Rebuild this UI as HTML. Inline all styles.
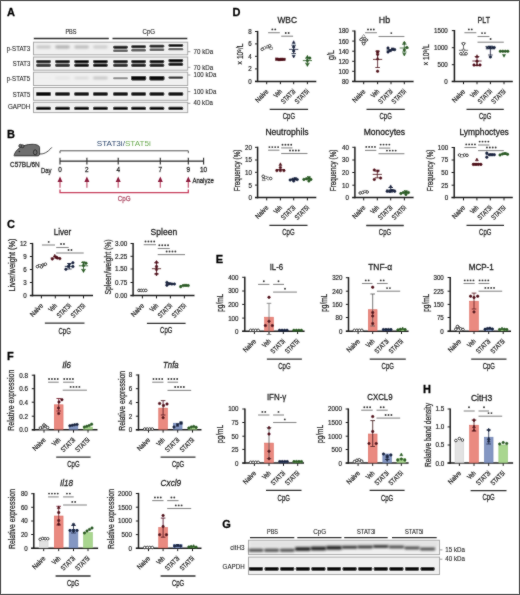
<!DOCTYPE html>
<html><head><meta charset="utf-8"><title>figure</title>
<style>
html,body{margin:0;padding:0;background:#fff;}
body{width:520px;height:595px;overflow:hidden;}
svg{display:block;font-family:"Liberation Sans",sans-serif;}
</style></head><body>
<svg width="520" height="595" viewBox="0 0 520 595" fill="#2b2b2b">
<defs>
<filter id="b06" x="-20%" y="-100%" width="140%" height="300%"><feGaussianBlur stdDeviation="0.6"/></filter>
<filter id="b1" x="-20%" y="-100%" width="140%" height="300%"><feGaussianBlur stdDeviation="0.8"/></filter>
<filter id="gb" x="0" y="0" width="520" height="595" filterUnits="userSpaceOnUse"><feConvolveMatrix order="3" kernelMatrix="0.0280 0.0520 0.0280 0.0520 0.6800 0.0520 0.0280 0.0520 0.0280" divisor="1" edgeMode="duplicate" preserveAlpha="false"/></filter>
</defs>
<rect width="520" height="595" fill="#fff"/>
<g filter="url(#gb)">
<text x="6.9" y="16" font-size="11" fill="#000" font-weight="bold" stroke="#000" stroke-width="0.26">A</text>
<text x="6.9" y="138" font-size="11" fill="#000" font-weight="bold" stroke="#000" stroke-width="0.26">B</text>
<text x="7" y="227.6" font-size="11" fill="#000" font-weight="bold" stroke="#000" stroke-width="0.26">C</text>
<text x="232.6" y="16.1" font-size="11" fill="#000" font-weight="bold" stroke="#000" stroke-width="0.26">D</text>
<text x="215.8" y="262.7" font-size="11" fill="#000" font-weight="bold" stroke="#000" stroke-width="0.26">E</text>
<text x="6.9" y="360.3" font-size="11" fill="#000" font-weight="bold" stroke="#000" stroke-width="0.26">F</text>
<text x="222.3" y="528.2" font-size="11" fill="#000" font-weight="bold" stroke="#000" stroke-width="0.26">G</text>
<text x="423" y="393.2" font-size="11" fill="#000" font-weight="bold" stroke="#000" stroke-width="0.26">H</text>
<rect x="33.5" y="42.2" width="154.2" height="12.6" fill="#f0f0f0" stroke="#a8a8a8" stroke-width="1"/>
<text x="30.2" y="50.6" font-size="7.1" text-anchor="end" textLength="23.5" lengthAdjust="spacingAndGlyphs" stroke="#2b2b2b" stroke-width="0.1">p-STAT3</text>
<rect x="33.5" y="57" width="154.2" height="13.2" fill="#f0f0f0" stroke="#a8a8a8" stroke-width="1"/>
<text x="30.2" y="66" font-size="7.1" text-anchor="end" textLength="17.5" lengthAdjust="spacingAndGlyphs" stroke="#2b2b2b" stroke-width="0.1">STAT3</text>
<rect x="33.5" y="72.2" width="154.2" height="13.3" fill="#f0f0f0" stroke="#a8a8a8" stroke-width="1"/>
<text x="30.2" y="81.3" font-size="7.1" text-anchor="end" textLength="23.5" lengthAdjust="spacingAndGlyphs" stroke="#2b2b2b" stroke-width="0.1">p-STAT5</text>
<rect x="33.5" y="87.5" width="154.2" height="12.8" fill="#f0f0f0" stroke="#a8a8a8" stroke-width="1"/>
<text x="30.2" y="96.5" font-size="7.1" text-anchor="end" textLength="17.5" lengthAdjust="spacingAndGlyphs" stroke="#2b2b2b" stroke-width="0.1">STAT5</text>
<rect x="33.5" y="102.3" width="154.2" height="10.3" fill="#f0f0f0" stroke="#a8a8a8" stroke-width="1"/>
<text x="30.2" y="109" font-size="7.1" text-anchor="end" textLength="22.3" lengthAdjust="spacingAndGlyphs" stroke="#2b2b2b" stroke-width="0.1">GAPDH</text>
<line x1="33.8" y1="38.4" x2="108.8" y2="38.4" stroke="#333" stroke-width="1.5"/>
<line x1="112.5" y1="38.4" x2="187.3" y2="38.4" stroke="#333" stroke-width="1.5"/>
<text x="71" y="33.8" font-size="6.8" text-anchor="middle" textLength="11.2" lengthAdjust="spacingAndGlyphs" stroke="#2b2b2b" stroke-width="0.12">PBS</text>
<text x="148.8" y="33.8" font-size="6.8" text-anchor="middle" textLength="12.6" lengthAdjust="spacingAndGlyphs" stroke="#2b2b2b" stroke-width="0.12">CpG</text>
<text x="193.6" y="53.8" font-size="7" textLength="19.6" lengthAdjust="spacingAndGlyphs" stroke="#2b2b2b" stroke-width="0.12">70 kDa</text>
<line x1="187.9" y1="51.7" x2="190.4" y2="51.7" stroke="#777" stroke-width="0.7"/>
<text x="193.6" y="69.6" font-size="7" textLength="19.6" lengthAdjust="spacingAndGlyphs" stroke="#2b2b2b" stroke-width="0.12">70 kDa</text>
<line x1="187.9" y1="67.3" x2="190.4" y2="67.3" stroke="#777" stroke-width="0.7"/>
<text x="193.6" y="76.9" font-size="7" textLength="22.7" lengthAdjust="spacingAndGlyphs" stroke="#2b2b2b" stroke-width="0.12">100 kDa</text>
<line x1="187.9" y1="75" x2="190.4" y2="75" stroke="#777" stroke-width="0.7"/>
<text x="193.6" y="93.7" font-size="7" textLength="22.7" lengthAdjust="spacingAndGlyphs" stroke="#2b2b2b" stroke-width="0.12">100 kDa</text>
<line x1="187.9" y1="91.6" x2="190.4" y2="91.6" stroke="#777" stroke-width="0.7"/>
<text x="193.6" y="105.4" font-size="7" textLength="19.4" lengthAdjust="spacingAndGlyphs" stroke="#2b2b2b" stroke-width="0.12">40 kDa</text>
<line x1="187.9" y1="103.3" x2="190.4" y2="103.3" stroke="#777" stroke-width="0.7"/>
<rect x="36.2" y="45.6" width="14.6" height="2.8" rx="1.4" fill="#c4c4c4" opacity="1" filter="url(#b1)"/>
<rect x="55.2" y="45.6" width="14.6" height="2.8" rx="1.4" fill="#acacac" opacity="1" filter="url(#b1)"/>
<rect x="74.3" y="45.6" width="14.6" height="2.8" rx="1.4" fill="#b8b8b8" opacity="1" filter="url(#b1)"/>
<rect x="93.1" y="45.6" width="14.6" height="2.8" rx="1.4" fill="#cacaca" opacity="1" filter="url(#b1)"/>
<rect x="113.1" y="45.85" width="14.8" height="2.9" rx="1.4" fill="#1c1c1c" opacity="1" filter="url(#b06)"/>
<rect x="113.1" y="49.6" width="14.8" height="2.4" rx="1.2" fill="#5e5e5e" opacity="1" filter="url(#b06)"/>
<rect x="131.2" y="45.25" width="14.8" height="2.9" rx="1.4" fill="#1c1c1c" opacity="1" filter="url(#b06)"/>
<rect x="131.2" y="49.05" width="14.8" height="2.4" rx="1.2" fill="#5e5e5e" opacity="1" filter="url(#b06)"/>
<rect x="149.5" y="44.65" width="14.8" height="2.9" rx="1.4" fill="#1c1c1c" opacity="1" filter="url(#b06)"/>
<rect x="149.5" y="48.5" width="14.8" height="2.4" rx="1.2" fill="#5e5e5e" opacity="1" filter="url(#b06)"/>
<rect x="168.4" y="44.05" width="14.8" height="2.9" rx="1.4" fill="#1c1c1c" opacity="1" filter="url(#b06)"/>
<rect x="168.4" y="47.95" width="14.8" height="2.4" rx="1.2" fill="#5e5e5e" opacity="1" filter="url(#b06)"/>
<rect x="36.1" y="60" width="14.8" height="3.2" rx="1.4" fill="#262626" opacity="1" filter="url(#b06)"/>
<rect x="36.1" y="63.8" width="14.8" height="3.2" rx="1.4" fill="#3c3c3c" opacity="1" filter="url(#b06)"/>
<rect x="55.1" y="60" width="14.8" height="3.2" rx="1.4" fill="#1c1c1c" opacity="1" filter="url(#b06)"/>
<rect x="55.1" y="63.8" width="14.8" height="3.2" rx="1.4" fill="#343434" opacity="1" filter="url(#b06)"/>
<rect x="74.2" y="60" width="14.8" height="3.2" rx="1.4" fill="#0c0c0c" opacity="1" filter="url(#b06)"/>
<rect x="74.2" y="63.8" width="14.8" height="3.2" rx="1.4" fill="#141414" opacity="1" filter="url(#b06)"/>
<rect x="93" y="60" width="14.8" height="3.2" rx="1.4" fill="#0e0e0e" opacity="1" filter="url(#b06)"/>
<rect x="93" y="63.8" width="14.8" height="3.2" rx="1.4" fill="#161616" opacity="1" filter="url(#b06)"/>
<rect x="113.1" y="60" width="14.8" height="3.2" rx="1.4" fill="#1e1e1e" opacity="1" filter="url(#b06)"/>
<rect x="113.1" y="63.8" width="14.8" height="3.2" rx="1.4" fill="#333" opacity="1" filter="url(#b06)"/>
<rect x="131.2" y="60" width="14.8" height="3.2" rx="1.4" fill="#141414" opacity="1" filter="url(#b06)"/>
<rect x="131.2" y="63.8" width="14.8" height="3.2" rx="1.4" fill="#262626" opacity="1" filter="url(#b06)"/>
<rect x="149.5" y="60" width="14.8" height="3.2" rx="1.4" fill="#161616" opacity="1" filter="url(#b06)"/>
<rect x="149.5" y="63.8" width="14.8" height="3.2" rx="1.4" fill="#262626" opacity="1" filter="url(#b06)"/>
<rect x="168.4" y="59" width="14.8" height="3.2" rx="1.4" fill="#101010" opacity="1" filter="url(#b06)"/>
<rect x="168.4" y="62.8" width="14.8" height="3.2" rx="1.4" fill="#1e1e1e" opacity="1" filter="url(#b06)"/>
<rect x="36.2" y="76.8" width="14.6" height="2.4" rx="1.2" fill="#efefef" opacity="1" filter="url(#b1)"/>
<rect x="55.2" y="76.8" width="14.6" height="2.4" rx="1.2" fill="#e2e2e2" opacity="1" filter="url(#b1)"/>
<rect x="74.3" y="76.8" width="14.6" height="2.4" rx="1.2" fill="#d8d8d8" opacity="1" filter="url(#b1)"/>
<rect x="93.1" y="76.8" width="14.6" height="2.4" rx="1.2" fill="#c0c0c0" opacity="1" filter="url(#b1)"/>
<rect x="113.1" y="77.35" width="14.8" height="1.9" rx="0.95" fill="#8a8a8a" opacity="1" filter="url(#b06)"/>
<rect x="131" y="76.1" width="15.2" height="4.4" rx="1.4" fill="#0a0a0a" opacity="1" filter="url(#b06)"/>
<rect x="149.3" y="76" width="15.2" height="4.4" rx="1.4" fill="#080808" opacity="1" filter="url(#b06)"/>
<rect x="168.4" y="76.45" width="14.8" height="2.3" rx="1.15" fill="#303030" opacity="1" filter="url(#b06)"/>
<rect x="36.1" y="91.9" width="14.8" height="4.2" rx="1.4" fill="#0c0c0c" opacity="1" filter="url(#b06)"/>
<rect x="55.1" y="92.2" width="14.8" height="3.6" rx="1.4" fill="#0c0c0c" opacity="1" filter="url(#b06)"/>
<rect x="74.2" y="92.2" width="14.8" height="3.6" rx="1.4" fill="#0c0c0c" opacity="1" filter="url(#b06)"/>
<rect x="93" y="92.2" width="14.8" height="3.6" rx="1.4" fill="#0c0c0c" opacity="1" filter="url(#b06)"/>
<rect x="113.1" y="92.2" width="14.8" height="3.6" rx="1.4" fill="#0c0c0c" opacity="1" filter="url(#b06)"/>
<rect x="131.2" y="92.2" width="14.8" height="3.6" rx="1.4" fill="#0c0c0c" opacity="1" filter="url(#b06)"/>
<rect x="149.5" y="92.2" width="14.8" height="3.6" rx="1.4" fill="#0c0c0c" opacity="1" filter="url(#b06)"/>
<rect x="168.4" y="92.2" width="14.8" height="3.6" rx="1.4" fill="#0c0c0c" opacity="1" filter="url(#b06)"/>
<rect x="36.1" y="106.7" width="14.8" height="3.4" rx="1.4" fill="#0a0a0a" opacity="1" filter="url(#b06)"/>
<rect x="55.1" y="106.7" width="14.8" height="3.4" rx="1.4" fill="#0a0a0a" opacity="1" filter="url(#b06)"/>
<rect x="74.2" y="106.7" width="14.8" height="3.4" rx="1.4" fill="#0a0a0a" opacity="1" filter="url(#b06)"/>
<rect x="93" y="106.7" width="14.8" height="3.4" rx="1.4" fill="#0a0a0a" opacity="1" filter="url(#b06)"/>
<rect x="113.1" y="106.7" width="14.8" height="3.4" rx="1.4" fill="#0a0a0a" opacity="1" filter="url(#b06)"/>
<rect x="131.2" y="106.7" width="14.8" height="3.4" rx="1.4" fill="#0a0a0a" opacity="1" filter="url(#b06)"/>
<rect x="149.5" y="106.7" width="14.8" height="3.4" rx="1.4" fill="#0a0a0a" opacity="1" filter="url(#b06)"/>
<rect x="168.4" y="106.7" width="14.8" height="3.4" rx="1.4" fill="#0a0a0a" opacity="1" filter="url(#b06)"/>
<rect x="248.5" y="540.3" width="191" height="14.3" fill="#f0f0f0" stroke="#a8a8a8" stroke-width="1"/>
<rect x="248.5" y="557.1" width="191" height="17.4" fill="#f0f0f0" stroke="#a8a8a8" stroke-width="1"/>
<text x="244.6" y="550.2" font-size="7.4" text-anchor="end" textLength="14.4" lengthAdjust="spacingAndGlyphs" stroke="#2b2b2b" stroke-width="0.12">citH3</text>
<text x="244.6" y="569" font-size="7.2" text-anchor="end" textLength="22" lengthAdjust="spacingAndGlyphs" stroke="#2b2b2b" stroke-width="0.12">GAPDH</text>
<line x1="250" y1="537.6" x2="294.3" y2="537.6" stroke="#333" stroke-width="1.3"/>
<text x="272.5" y="534.2" font-size="6.5" text-anchor="middle" textLength="11.1" lengthAdjust="spacingAndGlyphs" stroke="#2b2b2b" stroke-width="0.12">PBS</text>
<line x1="297.3" y1="537.6" x2="341.5" y2="537.6" stroke="#333" stroke-width="1.3"/>
<text x="319.6" y="534.2" font-size="6.5" text-anchor="middle" textLength="12.9" lengthAdjust="spacingAndGlyphs" stroke="#2b2b2b" stroke-width="0.12">CpG</text>
<line x1="344.2" y1="537.6" x2="387.7" y2="537.6" stroke="#333" stroke-width="1.3"/>
<text x="366.2" y="534.2" font-size="6.5" text-anchor="middle" textLength="18.4" lengthAdjust="spacingAndGlyphs" stroke="#2b2b2b" stroke-width="0.12">STAT3i</text>
<line x1="392" y1="537.6" x2="436.7" y2="537.6" stroke="#333" stroke-width="1.3"/>
<text x="414.2" y="534.2" font-size="6.5" text-anchor="middle" textLength="18.4" lengthAdjust="spacingAndGlyphs" stroke="#2b2b2b" stroke-width="0.12">STAT5i</text>
<text x="445.3" y="552.1" font-size="7" textLength="19.7" lengthAdjust="spacingAndGlyphs" stroke="#2b2b2b" stroke-width="0.12">15 kDa</text>
<line x1="439.8" y1="549.9" x2="442.4" y2="549.9" stroke="#777" stroke-width="0.7"/>
<text x="445.3" y="561" font-size="7" textLength="19.7" lengthAdjust="spacingAndGlyphs" stroke="#2b2b2b" stroke-width="0.12">40 kDa</text>
<line x1="439.8" y1="559.2" x2="442.4" y2="559.2" stroke="#777" stroke-width="0.7"/>
<rect x="249.5" y="541" width="189" height="6" fill="#d9d9d9" opacity="0.55" filter="url(#b1)"/>
<rect x="248.5" y="548.6" width="15" height="3.4" rx="1.4" fill="#585858" opacity="1" filter="url(#b1)"/>
<rect x="249" y="566.95" width="14" height="3.9" rx="1.4" fill="#080808" opacity="1" filter="url(#b06)"/>
<rect x="264.1" y="548.6" width="15" height="3.4" rx="1.4" fill="#585858" opacity="1" filter="url(#b1)"/>
<rect x="264.6" y="566.95" width="14" height="3.9" rx="1.4" fill="#080808" opacity="1" filter="url(#b06)"/>
<rect x="279.7" y="548.6" width="15" height="3.4" rx="1.4" fill="#585858" opacity="1" filter="url(#b1)"/>
<rect x="280.2" y="566.95" width="14" height="3.9" rx="1.4" fill="#080808" opacity="1" filter="url(#b06)"/>
<rect x="295" y="547" width="15.6" height="4" rx="1.4" fill="#262626" opacity="1" filter="url(#b1)"/>
<rect x="295.8" y="566.95" width="14" height="3.9" rx="1.4" fill="#080808" opacity="1" filter="url(#b06)"/>
<rect x="310.6" y="546.4" width="15.6" height="4" rx="1.4" fill="#262626" opacity="1" filter="url(#b1)"/>
<rect x="311.4" y="566.95" width="14" height="3.9" rx="1.4" fill="#080808" opacity="1" filter="url(#b06)"/>
<rect x="326.2" y="545.8" width="15.6" height="4" rx="1.4" fill="#262626" opacity="1" filter="url(#b1)"/>
<rect x="327" y="566.95" width="14" height="3.9" rx="1.4" fill="#080808" opacity="1" filter="url(#b06)"/>
<rect x="341.8" y="545.8" width="15.6" height="3" rx="1.4" fill="#363636" opacity="1" filter="url(#b1)"/>
<rect x="342.6" y="566.95" width="14" height="3.9" rx="1.4" fill="#080808" opacity="1" filter="url(#b06)"/>
<rect x="357.4" y="545.4" width="15.6" height="3" rx="1.4" fill="#363636" opacity="1" filter="url(#b1)"/>
<rect x="358.2" y="566.95" width="14" height="3.9" rx="1.4" fill="#080808" opacity="1" filter="url(#b06)"/>
<rect x="373" y="545" width="15.6" height="3" rx="1.4" fill="#363636" opacity="1" filter="url(#b1)"/>
<rect x="373.8" y="566.95" width="14" height="3.9" rx="1.4" fill="#080808" opacity="1" filter="url(#b06)"/>
<rect x="388.6" y="545.4" width="15.6" height="3" rx="1.4" fill="#4a4a4a" opacity="1" filter="url(#b1)"/>
<rect x="389.4" y="566.95" width="14" height="3.9" rx="1.4" fill="#080808" opacity="1" filter="url(#b06)"/>
<rect x="404.2" y="546.4" width="15.6" height="3" rx="1.4" fill="#4a4a4a" opacity="1" filter="url(#b1)"/>
<rect x="405" y="566.95" width="14" height="3.9" rx="1.4" fill="#080808" opacity="1" filter="url(#b06)"/>
<rect x="419.8" y="547.4" width="15.6" height="3" rx="1.4" fill="#4a4a4a" opacity="1" filter="url(#b1)"/>
<rect x="420.6" y="566.95" width="14" height="3.9" rx="1.4" fill="#080808" opacity="1" filter="url(#b06)"/>
<path d="M14,155.6 C14.5,152.8 17,149.5 19.5,148 C22.5,145.8 27,144.3 32,144.3 C36,144.3 39.3,145.2 39.6,147.5 L39.6,154 C39.6,155.3 38.8,155.9 37.5,155.9 L15.2,155.9 C14.4,155.9 13.9,155.9 14,155.6 Z" fill="#6e6e6e" stroke="#1e1e1e" stroke-width="0.8"/>
<circle cx="20.4" cy="145.9" r="1.6" fill="#6e6e6e" stroke="#1e1e1e" stroke-width="0.7"/>
<circle cx="22.6" cy="146.2" r="1.5" fill="#6e6e6e" stroke="#1e1e1e" stroke-width="0.7"/>
<ellipse cx="35.2" cy="152.3" rx="1.8" ry="2.5" fill="#6e6e6e" stroke="#1e1e1e" stroke-width="0.8"/>
<circle cx="19.4" cy="151.5" r="0.8" fill="#111"/>
<path d="M39.5,153.8 C43,154.6 47.5,152.5 51.8,147.4" fill="none" stroke="#1e1e1e" stroke-width="0.8"/>
<text x="10" y="166.5" font-size="6.6" textLength="29.8" lengthAdjust="spacingAndGlyphs" stroke="#2b2b2b" stroke-width="0.26">C57BL/6N</text>
<text x="40.9" y="172.6" font-size="6.6" textLength="10.6" lengthAdjust="spacingAndGlyphs" stroke="#2b2b2b" stroke-width="0.26">Day</text>
<text x="96.8" y="145.8" font-size="7.6" textLength="54" lengthAdjust="spacingAndGlyphs"><tspan fill="#2f4a70">STAT3i/</tspan><tspan fill="#6cab52">STAT5i</tspan></text>
<polyline points="60,153.2 60,150.8 188.3,150.8 188.3,153.2" fill="none" stroke="#555" stroke-width="1"/>
<line x1="60" y1="161.1" x2="203.6" y2="161.1" stroke="#2a2a2a" stroke-width="1.1"/>
<line x1="60" y1="157.8" x2="60" y2="164.6" stroke="#2a2a2a" stroke-width="1.1"/>
<text x="60" y="172.3" font-size="6.4" text-anchor="middle" stroke="#2b2b2b" stroke-width="0.26">0</text>
<line x1="86.9" y1="157.8" x2="86.9" y2="164.6" stroke="#2a2a2a" stroke-width="1.1"/>
<text x="86.9" y="172.3" font-size="6.4" text-anchor="middle" stroke="#2b2b2b" stroke-width="0.26">2</text>
<line x1="118.2" y1="157.8" x2="118.2" y2="164.6" stroke="#2a2a2a" stroke-width="1.1"/>
<text x="118.2" y="172.3" font-size="6.4" text-anchor="middle" stroke="#2b2b2b" stroke-width="0.26">4</text>
<line x1="160.3" y1="157.8" x2="160.3" y2="164.6" stroke="#2a2a2a" stroke-width="1.1"/>
<text x="160.3" y="172.3" font-size="6.4" text-anchor="middle" stroke="#2b2b2b" stroke-width="0.26">7</text>
<line x1="188.3" y1="157.8" x2="188.3" y2="164.6" stroke="#2a2a2a" stroke-width="1.1"/>
<text x="188.3" y="172.3" font-size="6.4" text-anchor="middle" stroke="#2b2b2b" stroke-width="0.26">9</text>
<line x1="203.6" y1="157.8" x2="203.6" y2="164.6" stroke="#2a2a2a" stroke-width="1.1"/>
<text x="203.6" y="172.3" font-size="6.4" text-anchor="middle" stroke="#2b2b2b" stroke-width="0.26">10</text>
<line x1="60" y1="180.5" x2="60" y2="187.8" stroke="#c45a75" stroke-width="1.2"/>
<polygon points="60,176.4 57.5,182 62.5,182" fill="#8c1a3c"/>
<line x1="86.9" y1="180.5" x2="86.9" y2="187.8" stroke="#c45a75" stroke-width="1.2"/>
<polygon points="86.9,176.4 84.4,182 89.4,182" fill="#8c1a3c"/>
<line x1="118.2" y1="180.5" x2="118.2" y2="187.8" stroke="#c45a75" stroke-width="1.2"/>
<polygon points="118.2,176.4 115.7,182 120.7,182" fill="#8c1a3c"/>
<line x1="160.3" y1="180.5" x2="160.3" y2="187.8" stroke="#c45a75" stroke-width="1.2"/>
<polygon points="160.3,176.4 157.8,182 162.8,182" fill="#8c1a3c"/>
<line x1="188.3" y1="180.5" x2="188.3" y2="187.8" stroke="#c45a75" stroke-width="1.2"/>
<polygon points="188.3,176.4 185.8,182 190.8,182" fill="#8c1a3c"/>
<text x="192.4" y="183" font-size="6.6" textLength="21.4" lengthAdjust="spacingAndGlyphs" stroke="#2b2b2b" stroke-width="0.26">Analyze</text>
<polyline points="60,189.6 60,192.7 188.3,192.7 188.3,189.6" fill="none" stroke="#c8405f" stroke-width="1.3"/>
<text x="124.2" y="201.3" font-size="6.8" text-anchor="middle" fill="#b0506a" textLength="12.8" lengthAdjust="spacingAndGlyphs" stroke="#b0506a" stroke-width="0.26">CpG</text>
<line x1="257.6" y1="30.9" x2="257.6" y2="82.1" stroke="#1e1e1e" stroke-width="1.5"/>
<line x1="255" y1="81.4" x2="316.3" y2="81.4" stroke="#1e1e1e" stroke-width="1.5"/>
<line x1="255" y1="31.5" x2="257.6" y2="31.5" stroke="#1e1e1e" stroke-width="1"/>
<text x="251.8" y="33.95" font-size="6.8" text-anchor="end" textLength="3.45" lengthAdjust="spacingAndGlyphs" stroke="#2b2b2b" stroke-width="0.2">8</text>
<line x1="255" y1="43.9" x2="257.6" y2="43.9" stroke="#1e1e1e" stroke-width="1"/>
<text x="251.8" y="46.35" font-size="6.8" text-anchor="end" textLength="3.45" lengthAdjust="spacingAndGlyphs" stroke="#2b2b2b" stroke-width="0.2">6</text>
<line x1="255" y1="56.3" x2="257.6" y2="56.3" stroke="#1e1e1e" stroke-width="1"/>
<text x="251.8" y="58.75" font-size="6.8" text-anchor="end" textLength="3.45" lengthAdjust="spacingAndGlyphs" stroke="#2b2b2b" stroke-width="0.2">4</text>
<line x1="255" y1="68.9" x2="257.6" y2="68.9" stroke="#1e1e1e" stroke-width="1"/>
<text x="251.8" y="71.35" font-size="6.8" text-anchor="end" textLength="3.45" lengthAdjust="spacingAndGlyphs" stroke="#2b2b2b" stroke-width="0.2">2</text>
<line x1="255" y1="81.3" x2="257.6" y2="81.3" stroke="#1e1e1e" stroke-width="1"/>
<text x="251.8" y="83.75" font-size="6.8" text-anchor="end" textLength="3.45" lengthAdjust="spacingAndGlyphs" stroke="#2b2b2b" stroke-width="0.2">0</text>
<line x1="266.7" y1="81.4" x2="266.7" y2="84.2" stroke="#1e1e1e" stroke-width="1"/>
<text x="268.9" y="92" font-size="6.9" text-anchor="end" textLength="15.5" lengthAdjust="spacingAndGlyphs" transform="rotate(-45 268.9 92)" stroke="#2b2b2b" stroke-width="0.26">Naive</text>
<line x1="280.4" y1="81.4" x2="280.4" y2="84.2" stroke="#1e1e1e" stroke-width="1"/>
<text x="282.6" y="92" font-size="6.9" text-anchor="end" textLength="8.7" lengthAdjust="spacingAndGlyphs" transform="rotate(-45 282.6 92)" stroke="#2b2b2b" stroke-width="0.26">Veh</text>
<line x1="293.7" y1="81.4" x2="293.7" y2="84.2" stroke="#1e1e1e" stroke-width="1"/>
<text x="295.9" y="92" font-size="6.9" text-anchor="end" textLength="17.2" lengthAdjust="spacingAndGlyphs" transform="rotate(-45 295.9 92)" stroke="#2b2b2b" stroke-width="0.26">STAT3i</text>
<line x1="307.4" y1="81.4" x2="307.4" y2="84.2" stroke="#1e1e1e" stroke-width="1"/>
<text x="309.6" y="92" font-size="6.9" text-anchor="end" textLength="17.2" lengthAdjust="spacingAndGlyphs" transform="rotate(-45 309.6 92)" stroke="#2b2b2b" stroke-width="0.26">STAT5i</text>
<text x="287.2" y="23.1" font-size="8.6" text-anchor="middle" fill="#1e1e1e" textLength="19.4" lengthAdjust="spacingAndGlyphs" stroke="#1e1e1e" stroke-width="0.26">WBC</text>
<text x="240.1" y="54.2" font-size="8.4" text-anchor="middle" textLength="21" lengthAdjust="spacingAndGlyphs" transform="rotate(-90 240.1 54.2)" stroke="#2b2b2b" stroke-width="0.26" dominant-baseline="central">× 10⁹/L</text>
<line x1="268.1" y1="32.7" x2="279.8" y2="32.7" stroke="#8a8a8a" stroke-width="1.1"/>
<circle cx="272.35" cy="29.4" r="0.95" fill="#3a3a3a"/>
<circle cx="275.25" cy="29.4" r="0.95" fill="#3a3a3a"/>
<line x1="281.2" y1="36.2" x2="293.1" y2="36.2" stroke="#8a8a8a" stroke-width="1.1"/>
<circle cx="285.75" cy="33" r="0.95" fill="#3a3a3a"/>
<circle cx="288.65" cy="33" r="0.95" fill="#3a3a3a"/>
<line x1="269.7" y1="109.4" x2="308.1" y2="109.4" stroke="#333" stroke-width="1.3"/>
<text x="288.9" y="119" font-size="8.2" text-anchor="middle" textLength="12.3" lengthAdjust="spacingAndGlyphs" stroke="#2b2b2b" stroke-width="0.26">CpG</text>
<line x1="262.1" y1="47.8" x2="271.3" y2="47.8" stroke="#555" stroke-width="0.8"/>
<circle cx="262.2" cy="49.3" r="1.3" fill="#ffffff" stroke="#262626" stroke-width="0.9"/>
<polygon points="264.7,45.98 266.13,47.8 264.7,49.62 263.27,47.8" fill="#ffffff" stroke="#262626" stroke-width="0.5"/>
<polygon points="267.2,44.91 265.64,47.77 268.76,47.77" fill="#ffffff" stroke="#262626" stroke-width="0.5"/>
<circle cx="269.7" cy="45.8" r="1.3" fill="#ffffff" stroke="#262626" stroke-width="0.9"/>
<rect x="269.9" y="47.1" width="2.6" height="2.6" fill="#ffffff" stroke="#262626" stroke-width="0.5"/>
<line x1="280.4" y1="58.4" x2="280.4" y2="59.4" stroke="#4e0c18" stroke-width="0.8"/>
<line x1="278.1" y1="58.4" x2="282.7" y2="58.4" stroke="#4e0c18" stroke-width="0.8"/>
<line x1="280.4" y1="59.4" x2="280.4" y2="60.4" stroke="#4e0c18" stroke-width="0.8"/>
<line x1="278.1" y1="60.4" x2="282.7" y2="60.4" stroke="#4e0c18" stroke-width="0.8"/>
<line x1="275.8" y1="59.4" x2="285" y2="59.4" stroke="#4e0c18" stroke-width="0.8"/>
<rect x="275.55" y="57.95" width="2.5" height="2.5" fill="#4e0c18" stroke="#4e0c18" stroke-width="0.5"/>
<rect x="277.95" y="58.35" width="2.5" height="2.5" fill="#4e0c18" stroke="#4e0c18" stroke-width="0.5"/>
<rect x="280.45" y="58.15" width="2.5" height="2.5" fill="#4e0c18" stroke="#4e0c18" stroke-width="0.5"/>
<rect x="282.75" y="58.15" width="2.5" height="2.5" fill="#4e0c18" stroke="#4e0c18" stroke-width="0.5"/>
<line x1="293.7" y1="45.2" x2="293.7" y2="49.4" stroke="#16213c" stroke-width="0.8"/>
<line x1="291.4" y1="45.2" x2="296" y2="45.2" stroke="#16213c" stroke-width="0.8"/>
<line x1="293.7" y1="49.4" x2="293.7" y2="53.6" stroke="#16213c" stroke-width="0.8"/>
<line x1="291.4" y1="53.6" x2="296" y2="53.6" stroke="#16213c" stroke-width="0.8"/>
<line x1="289.1" y1="49.4" x2="298.3" y2="49.4" stroke="#16213c" stroke-width="0.8"/>
<polygon points="293.7,40.67 292.2,43.42 295.2,43.42" fill="#16213c" stroke="#16213c" stroke-width="0.5"/>
<circle cx="293.7" cy="46.9" r="1.25" fill="#16213c" stroke="#16213c" stroke-width="0.55"/>
<circle cx="293.7" cy="51" r="1.25" fill="#16213c" stroke="#16213c" stroke-width="0.55"/>
<polygon points="293.7,58.02 292.2,55.27 295.2,55.27" fill="#16213c" stroke="#16213c" stroke-width="0.5"/>
<line x1="307.4" y1="58.2" x2="307.4" y2="60.6" stroke="#2a5a24" stroke-width="0.8"/>
<line x1="305.1" y1="58.2" x2="309.7" y2="58.2" stroke="#2a5a24" stroke-width="0.8"/>
<line x1="307.4" y1="60.6" x2="307.4" y2="63.2" stroke="#2a5a24" stroke-width="0.8"/>
<line x1="305.1" y1="63.2" x2="309.7" y2="63.2" stroke="#2a5a24" stroke-width="0.8"/>
<line x1="302.8" y1="60.6" x2="312" y2="60.6" stroke="#2a5a24" stroke-width="0.8"/>
<polygon points="307.4,55.27 305.9,58.02 308.9,58.02" fill="#2a5a24" stroke="#2a5a24" stroke-width="0.5"/>
<circle cx="309.8" cy="58.1" r="1.25" fill="#2a5a24" stroke="#2a5a24" stroke-width="0.55"/>
<circle cx="307.4" cy="60.6" r="1.25" fill="#2a5a24" stroke="#2a5a24" stroke-width="0.55"/>
<polygon points="307.4,66.53 305.9,63.78 308.9,63.78" fill="#2a5a24" stroke="#2a5a24" stroke-width="0.5"/>
<line x1="354.8" y1="30.4" x2="354.8" y2="82.1" stroke="#1e1e1e" stroke-width="1.5"/>
<line x1="352.2" y1="81.4" x2="413.6" y2="81.4" stroke="#1e1e1e" stroke-width="1.5"/>
<line x1="352.2" y1="31" x2="354.8" y2="31" stroke="#1e1e1e" stroke-width="1"/>
<text x="348.8" y="33.45" font-size="6.8" text-anchor="end" textLength="10.35" lengthAdjust="spacingAndGlyphs" stroke="#2b2b2b" stroke-width="0.2">180</text>
<line x1="352.2" y1="41.1" x2="354.8" y2="41.1" stroke="#1e1e1e" stroke-width="1"/>
<text x="348.8" y="43.55" font-size="6.8" text-anchor="end" textLength="10.35" lengthAdjust="spacingAndGlyphs" stroke="#2b2b2b" stroke-width="0.2">160</text>
<line x1="352.2" y1="51.2" x2="354.8" y2="51.2" stroke="#1e1e1e" stroke-width="1"/>
<text x="348.8" y="53.65" font-size="6.8" text-anchor="end" textLength="10.35" lengthAdjust="spacingAndGlyphs" stroke="#2b2b2b" stroke-width="0.2">140</text>
<line x1="352.2" y1="61.3" x2="354.8" y2="61.3" stroke="#1e1e1e" stroke-width="1"/>
<text x="348.8" y="63.75" font-size="6.8" text-anchor="end" textLength="10.35" lengthAdjust="spacingAndGlyphs" stroke="#2b2b2b" stroke-width="0.2">120</text>
<line x1="352.2" y1="71.3" x2="354.8" y2="71.3" stroke="#1e1e1e" stroke-width="1"/>
<text x="348.8" y="73.75" font-size="6.8" text-anchor="end" textLength="10.35" lengthAdjust="spacingAndGlyphs" stroke="#2b2b2b" stroke-width="0.2">100</text>
<line x1="352.2" y1="81.3" x2="354.8" y2="81.3" stroke="#1e1e1e" stroke-width="1"/>
<text x="348.8" y="83.75" font-size="6.8" text-anchor="end" textLength="6.9" lengthAdjust="spacingAndGlyphs" stroke="#2b2b2b" stroke-width="0.2">80</text>
<line x1="363.7" y1="81.4" x2="363.7" y2="84.2" stroke="#1e1e1e" stroke-width="1"/>
<text x="365.9" y="92" font-size="6.9" text-anchor="end" textLength="15.5" lengthAdjust="spacingAndGlyphs" transform="rotate(-45 365.9 92)" stroke="#2b2b2b" stroke-width="0.26">Naive</text>
<line x1="377.6" y1="81.4" x2="377.6" y2="84.2" stroke="#1e1e1e" stroke-width="1"/>
<text x="379.8" y="92" font-size="6.9" text-anchor="end" textLength="8.7" lengthAdjust="spacingAndGlyphs" transform="rotate(-45 379.8 92)" stroke="#2b2b2b" stroke-width="0.26">Veh</text>
<line x1="391" y1="81.4" x2="391" y2="84.2" stroke="#1e1e1e" stroke-width="1"/>
<text x="393.2" y="92" font-size="6.9" text-anchor="end" textLength="17.2" lengthAdjust="spacingAndGlyphs" transform="rotate(-45 393.2 92)" stroke="#2b2b2b" stroke-width="0.26">STAT3i</text>
<line x1="404.3" y1="81.4" x2="404.3" y2="84.2" stroke="#1e1e1e" stroke-width="1"/>
<text x="406.5" y="92" font-size="6.9" text-anchor="end" textLength="17.2" lengthAdjust="spacingAndGlyphs" transform="rotate(-45 406.5 92)" stroke="#2b2b2b" stroke-width="0.26">STAT5i</text>
<text x="384.4" y="23.1" font-size="8.6" text-anchor="middle" fill="#1e1e1e" textLength="11.3" lengthAdjust="spacingAndGlyphs" stroke="#1e1e1e" stroke-width="0.26">Hb</text>
<text x="330.6" y="55" font-size="9.2" text-anchor="middle" textLength="10" lengthAdjust="spacingAndGlyphs" transform="rotate(-90 330.6 55)" stroke="#2b2b2b" stroke-width="0.26" dominant-baseline="central">g/L</text>
<line x1="365.1" y1="32.7" x2="376.9" y2="32.7" stroke="#8a8a8a" stroke-width="1.1"/>
<circle cx="368" cy="29.5" r="0.95" fill="#3a3a3a"/>
<circle cx="370.9" cy="29.5" r="0.95" fill="#3a3a3a"/>
<circle cx="373.8" cy="29.5" r="0.95" fill="#3a3a3a"/>
<line x1="378.5" y1="36.5" x2="404.4" y2="36.5" stroke="#8a8a8a" stroke-width="1.1"/>
<circle cx="391.3" cy="33.1" r="0.95" fill="#3a3a3a"/>
<line x1="366.5" y1="109.4" x2="404.8" y2="109.4" stroke="#333" stroke-width="1.3"/>
<text x="385.65" y="119" font-size="8.2" text-anchor="middle" textLength="12.3" lengthAdjust="spacingAndGlyphs" stroke="#2b2b2b" stroke-width="0.26">CpG</text>
<line x1="363.7" y1="37.5" x2="363.7" y2="40" stroke="#555" stroke-width="0.8"/>
<line x1="361.4" y1="37.5" x2="366" y2="37.5" stroke="#555" stroke-width="0.8"/>
<line x1="363.7" y1="40" x2="363.7" y2="42.5" stroke="#555" stroke-width="0.8"/>
<line x1="361.4" y1="42.5" x2="366" y2="42.5" stroke="#555" stroke-width="0.8"/>
<line x1="359.1" y1="40" x2="368.3" y2="40" stroke="#555" stroke-width="0.8"/>
<polygon points="363.7,34.48 365.13,36.3 363.7,38.12 362.27,36.3" fill="#ffffff" stroke="#262626" stroke-width="0.5"/>
<circle cx="361.2" cy="39.5" r="1.3" fill="#ffffff" stroke="#262626" stroke-width="0.9"/>
<circle cx="366.2" cy="40" r="1.3" fill="#ffffff" stroke="#262626" stroke-width="0.9"/>
<polygon points="363.7,39.61 362.14,42.47 365.26,42.47" fill="#ffffff" stroke="#262626" stroke-width="0.5"/>
<circle cx="363.7" cy="43.8" r="1.3" fill="#ffffff" stroke="#262626" stroke-width="0.9"/>
<line x1="377.6" y1="51.2" x2="377.6" y2="59.4" stroke="#4e0c18" stroke-width="0.8"/>
<line x1="375.3" y1="51.2" x2="379.9" y2="51.2" stroke="#4e0c18" stroke-width="0.8"/>
<line x1="377.6" y1="59.4" x2="377.6" y2="67.5" stroke="#4e0c18" stroke-width="0.8"/>
<line x1="375.3" y1="67.5" x2="379.9" y2="67.5" stroke="#4e0c18" stroke-width="0.8"/>
<line x1="373" y1="59.4" x2="382.2" y2="59.4" stroke="#4e0c18" stroke-width="0.8"/>
<rect x="376.35" y="50.75" width="2.5" height="2.5" fill="#4e0c18" stroke="#4e0c18" stroke-width="0.5"/>
<polygon points="377.6,56.62 376.1,53.88 379.1,53.88" fill="#4e0c18" stroke="#4e0c18" stroke-width="0.5"/>
<polygon points="377.6,56.98 376.1,59.73 379.1,59.73" fill="#4e0c18" stroke="#4e0c18" stroke-width="0.5"/>
<circle cx="377.6" cy="71.2" r="1.25" fill="#4e0c18" stroke="#4e0c18" stroke-width="0.55"/>
<line x1="386.4" y1="50" x2="395.6" y2="50" stroke="#16213c" stroke-width="0.8"/>
<circle cx="388" cy="48" r="1.25" fill="#16213c" stroke="#16213c" stroke-width="0.55"/>
<rect x="388.75" y="49.35" width="2.5" height="2.5" fill="#16213c" stroke="#16213c" stroke-width="0.5"/>
<rect x="391.25" y="47.95" width="2.5" height="2.5" fill="#16213c" stroke="#16213c" stroke-width="0.5"/>
<circle cx="394.6" cy="49.6" r="1.25" fill="#16213c" stroke="#16213c" stroke-width="0.55"/>
<circle cx="388" cy="52" r="1.25" fill="#16213c" stroke="#16213c" stroke-width="0.55"/>
<line x1="404.3" y1="44.2" x2="404.3" y2="48" stroke="#2a5a24" stroke-width="0.8"/>
<line x1="402" y1="44.2" x2="406.6" y2="44.2" stroke="#2a5a24" stroke-width="0.8"/>
<line x1="404.3" y1="48" x2="404.3" y2="52" stroke="#2a5a24" stroke-width="0.8"/>
<line x1="402" y1="52" x2="406.6" y2="52" stroke="#2a5a24" stroke-width="0.8"/>
<line x1="399.7" y1="48" x2="408.9" y2="48" stroke="#2a5a24" stroke-width="0.8"/>
<polygon points="404.3,41.25 405.68,43 404.3,44.75 402.93,43" fill="#2a5a24" stroke="#2a5a24" stroke-width="0.5"/>
<circle cx="406.8" cy="47.5" r="1.25" fill="#2a5a24" stroke="#2a5a24" stroke-width="0.55"/>
<circle cx="404.3" cy="50" r="1.25" fill="#2a5a24" stroke="#2a5a24" stroke-width="0.55"/>
<polygon points="404.3,56.02 402.8,53.27 405.8,53.27" fill="#2a5a24" stroke="#2a5a24" stroke-width="0.5"/>
<line x1="454.4" y1="30" x2="454.4" y2="82.1" stroke="#1e1e1e" stroke-width="1.5"/>
<line x1="451.8" y1="81.4" x2="512.8" y2="81.4" stroke="#1e1e1e" stroke-width="1.5"/>
<line x1="451.8" y1="30.6" x2="454.4" y2="30.6" stroke="#1e1e1e" stroke-width="1"/>
<text x="447.8" y="33.05" font-size="6.8" text-anchor="end" textLength="13.8" lengthAdjust="spacingAndGlyphs" stroke="#2b2b2b" stroke-width="0.2">1500</text>
<line x1="451.8" y1="47.7" x2="454.4" y2="47.7" stroke="#1e1e1e" stroke-width="1"/>
<text x="447.8" y="50.15" font-size="6.8" text-anchor="end" textLength="13.8" lengthAdjust="spacingAndGlyphs" stroke="#2b2b2b" stroke-width="0.2">1000</text>
<line x1="451.8" y1="64.7" x2="454.4" y2="64.7" stroke="#1e1e1e" stroke-width="1"/>
<text x="447.8" y="67.15" font-size="6.8" text-anchor="end" textLength="10.35" lengthAdjust="spacingAndGlyphs" stroke="#2b2b2b" stroke-width="0.2">500</text>
<line x1="451.8" y1="81.4" x2="454.4" y2="81.4" stroke="#1e1e1e" stroke-width="1"/>
<text x="447.8" y="83.85" font-size="6.8" text-anchor="end" textLength="3.45" lengthAdjust="spacingAndGlyphs" stroke="#2b2b2b" stroke-width="0.2">0</text>
<line x1="463.5" y1="81.4" x2="463.5" y2="84.2" stroke="#1e1e1e" stroke-width="1"/>
<text x="465.7" y="92" font-size="6.9" text-anchor="end" textLength="15.5" lengthAdjust="spacingAndGlyphs" transform="rotate(-45 465.7 92)" stroke="#2b2b2b" stroke-width="0.26">Naive</text>
<line x1="477" y1="81.4" x2="477" y2="84.2" stroke="#1e1e1e" stroke-width="1"/>
<text x="479.2" y="92" font-size="6.9" text-anchor="end" textLength="8.7" lengthAdjust="spacingAndGlyphs" transform="rotate(-45 479.2 92)" stroke="#2b2b2b" stroke-width="0.26">Veh</text>
<line x1="490.4" y1="81.4" x2="490.4" y2="84.2" stroke="#1e1e1e" stroke-width="1"/>
<text x="492.6" y="92" font-size="6.9" text-anchor="end" textLength="17.2" lengthAdjust="spacingAndGlyphs" transform="rotate(-45 492.6 92)" stroke="#2b2b2b" stroke-width="0.26">STAT3i</text>
<line x1="504" y1="81.4" x2="504" y2="84.2" stroke="#1e1e1e" stroke-width="1"/>
<text x="506.2" y="92" font-size="6.9" text-anchor="end" textLength="17.2" lengthAdjust="spacingAndGlyphs" transform="rotate(-45 506.2 92)" stroke="#2b2b2b" stroke-width="0.26">STAT5i</text>
<text x="483.8" y="23.1" font-size="8.6" text-anchor="middle" fill="#1e1e1e" textLength="12.5" lengthAdjust="spacingAndGlyphs" stroke="#1e1e1e" stroke-width="0.26">PLT</text>
<text x="426" y="55" font-size="8.4" text-anchor="middle" textLength="21" lengthAdjust="spacingAndGlyphs" transform="rotate(-90 426 55)" stroke="#2b2b2b" stroke-width="0.26" dominant-baseline="central">× 10⁹/L</text>
<line x1="464.4" y1="32.7" x2="476.3" y2="32.7" stroke="#8a8a8a" stroke-width="1.1"/>
<circle cx="468.85" cy="29.4" r="0.95" fill="#3a3a3a"/>
<circle cx="471.75" cy="29.4" r="0.95" fill="#3a3a3a"/>
<line x1="477.5" y1="36.5" x2="489.4" y2="36.5" stroke="#8a8a8a" stroke-width="1.1"/>
<circle cx="482.05" cy="33.1" r="0.95" fill="#3a3a3a"/>
<circle cx="484.95" cy="33.1" r="0.95" fill="#3a3a3a"/>
<line x1="477.5" y1="42.2" x2="503.8" y2="42.2" stroke="#8a8a8a" stroke-width="1.1"/>
<circle cx="490.6" cy="39" r="0.95" fill="#3a3a3a"/>
<line x1="466.5" y1="109.4" x2="503.8" y2="109.4" stroke="#333" stroke-width="1.3"/>
<text x="485.15" y="119" font-size="8.2" text-anchor="middle" textLength="12.3" lengthAdjust="spacingAndGlyphs" stroke="#2b2b2b" stroke-width="0.26">CpG</text>
<line x1="463.5" y1="43.1" x2="463.5" y2="50.3" stroke="#555" stroke-width="0.8"/>
<line x1="461.2" y1="43.1" x2="465.8" y2="43.1" stroke="#555" stroke-width="0.8"/>
<line x1="463.5" y1="50.3" x2="463.5" y2="55" stroke="#555" stroke-width="0.8"/>
<line x1="461.2" y1="55" x2="465.8" y2="55" stroke="#555" stroke-width="0.8"/>
<line x1="458.9" y1="50.3" x2="468.1" y2="50.3" stroke="#555" stroke-width="0.8"/>
<circle cx="463.5" cy="43.8" r="1.3" fill="#ffffff" stroke="#262626" stroke-width="0.9"/>
<polygon points="463.5,52.09 461.94,49.23 465.06,49.23" fill="#ffffff" stroke="#262626" stroke-width="0.5"/>
<circle cx="460.9" cy="53.7" r="1.3" fill="#ffffff" stroke="#262626" stroke-width="0.9"/>
<polygon points="463.5,51.81 461.94,54.67 465.06,54.67" fill="#ffffff" stroke="#262626" stroke-width="0.5"/>
<circle cx="466.1" cy="53.7" r="1.3" fill="#ffffff" stroke="#262626" stroke-width="0.9"/>
<line x1="477" y1="56.5" x2="477" y2="61" stroke="#4e0c18" stroke-width="0.8"/>
<line x1="474.7" y1="56.5" x2="479.3" y2="56.5" stroke="#4e0c18" stroke-width="0.8"/>
<line x1="477" y1="61" x2="477" y2="65.5" stroke="#4e0c18" stroke-width="0.8"/>
<line x1="474.7" y1="65.5" x2="479.3" y2="65.5" stroke="#4e0c18" stroke-width="0.8"/>
<line x1="472.4" y1="61" x2="481.6" y2="61" stroke="#4e0c18" stroke-width="0.8"/>
<polygon points="477,54.67 475.5,57.42 478.5,57.42" fill="#4e0c18" stroke="#4e0c18" stroke-width="0.5"/>
<circle cx="477" cy="61.2" r="1.25" fill="#4e0c18" stroke="#4e0c18" stroke-width="0.55"/>
<circle cx="474" cy="65" r="1.25" fill="#4e0c18" stroke="#4e0c18" stroke-width="0.55"/>
<polygon points="477,63.17 475.5,65.92 478.5,65.92" fill="#4e0c18" stroke="#4e0c18" stroke-width="0.5"/>
<circle cx="480" cy="65" r="1.25" fill="#4e0c18" stroke="#4e0c18" stroke-width="0.55"/>
<line x1="490.4" y1="46.2" x2="490.4" y2="48.8" stroke="#16213c" stroke-width="0.8"/>
<line x1="488.1" y1="46.2" x2="492.7" y2="46.2" stroke="#16213c" stroke-width="0.8"/>
<line x1="490.4" y1="48.8" x2="490.4" y2="55" stroke="#16213c" stroke-width="0.8"/>
<line x1="488.1" y1="55" x2="492.7" y2="55" stroke="#16213c" stroke-width="0.8"/>
<line x1="485.8" y1="48.8" x2="495" y2="48.8" stroke="#16213c" stroke-width="0.8"/>
<polygon points="487.2,49.12 485.7,46.38 488.7,46.38" fill="#16213c" stroke="#16213c" stroke-width="0.5"/>
<rect x="488.55" y="46.25" width="2.5" height="2.5" fill="#16213c" stroke="#16213c" stroke-width="0.5"/>
<polygon points="492.3,45.88 490.8,48.62 493.8,48.62" fill="#16213c" stroke="#16213c" stroke-width="0.5"/>
<circle cx="494.2" cy="47.5" r="1.25" fill="#16213c" stroke="#16213c" stroke-width="0.55"/>
<circle cx="490.4" cy="56.9" r="1.25" fill="#16213c" stroke="#16213c" stroke-width="0.55"/>
<line x1="499.4" y1="51.3" x2="508.6" y2="51.3" stroke="#2a5a24" stroke-width="0.8"/>
<circle cx="500.3" cy="51.3" r="1.25" fill="#2a5a24" stroke="#2a5a24" stroke-width="0.55"/>
<circle cx="502.8" cy="51.3" r="1.25" fill="#2a5a24" stroke="#2a5a24" stroke-width="0.55"/>
<circle cx="505.3" cy="51.3" r="1.25" fill="#2a5a24" stroke="#2a5a24" stroke-width="0.55"/>
<circle cx="507.8" cy="51.3" r="1.25" fill="#2a5a24" stroke="#2a5a24" stroke-width="0.55"/>
<polygon points="504,57.23 502.5,54.48 505.5,54.48" fill="#2a5a24" stroke="#2a5a24" stroke-width="0.5"/>
<line x1="257.6" y1="146.7" x2="257.6" y2="198.3" stroke="#1e1e1e" stroke-width="1.5"/>
<line x1="255" y1="197.6" x2="316.3" y2="197.6" stroke="#1e1e1e" stroke-width="1.5"/>
<line x1="255" y1="147.3" x2="257.6" y2="147.3" stroke="#1e1e1e" stroke-width="1"/>
<text x="251.9" y="149.75" font-size="6.8" text-anchor="end" textLength="6.9" lengthAdjust="spacingAndGlyphs" stroke="#2b2b2b" stroke-width="0.2">20</text>
<line x1="255" y1="160" x2="257.6" y2="160" stroke="#1e1e1e" stroke-width="1"/>
<text x="251.9" y="162.45" font-size="6.8" text-anchor="end" textLength="6.9" lengthAdjust="spacingAndGlyphs" stroke="#2b2b2b" stroke-width="0.2">15</text>
<line x1="255" y1="172.3" x2="257.6" y2="172.3" stroke="#1e1e1e" stroke-width="1"/>
<text x="251.9" y="174.75" font-size="6.8" text-anchor="end" textLength="6.9" lengthAdjust="spacingAndGlyphs" stroke="#2b2b2b" stroke-width="0.2">10</text>
<line x1="255" y1="185.1" x2="257.6" y2="185.1" stroke="#1e1e1e" stroke-width="1"/>
<text x="251.9" y="187.55" font-size="6.8" text-anchor="end" textLength="3.45" lengthAdjust="spacingAndGlyphs" stroke="#2b2b2b" stroke-width="0.2">5</text>
<line x1="255" y1="197.6" x2="257.6" y2="197.6" stroke="#1e1e1e" stroke-width="1"/>
<text x="251.9" y="200.05" font-size="6.8" text-anchor="end" textLength="3.45" lengthAdjust="spacingAndGlyphs" stroke="#2b2b2b" stroke-width="0.2">0</text>
<line x1="266.7" y1="197.6" x2="266.7" y2="200.4" stroke="#1e1e1e" stroke-width="1"/>
<text x="268.9" y="208.2" font-size="6.9" text-anchor="end" textLength="15.5" lengthAdjust="spacingAndGlyphs" transform="rotate(-45 268.9 208.2)" stroke="#2b2b2b" stroke-width="0.26">Naive</text>
<line x1="280.4" y1="197.6" x2="280.4" y2="200.4" stroke="#1e1e1e" stroke-width="1"/>
<text x="282.6" y="208.2" font-size="6.9" text-anchor="end" textLength="8.7" lengthAdjust="spacingAndGlyphs" transform="rotate(-45 282.6 208.2)" stroke="#2b2b2b" stroke-width="0.26">Veh</text>
<line x1="293.7" y1="197.6" x2="293.7" y2="200.4" stroke="#1e1e1e" stroke-width="1"/>
<text x="295.9" y="208.2" font-size="6.9" text-anchor="end" textLength="17.2" lengthAdjust="spacingAndGlyphs" transform="rotate(-45 295.9 208.2)" stroke="#2b2b2b" stroke-width="0.26">STAT3i</text>
<line x1="307.4" y1="197.6" x2="307.4" y2="200.4" stroke="#1e1e1e" stroke-width="1"/>
<text x="309.6" y="208.2" font-size="6.9" text-anchor="end" textLength="17.2" lengthAdjust="spacingAndGlyphs" transform="rotate(-45 309.6 208.2)" stroke="#2b2b2b" stroke-width="0.26">STAT5i</text>
<text x="287" y="134.7" font-size="8.6" text-anchor="middle" fill="#1e1e1e" textLength="43.2" lengthAdjust="spacingAndGlyphs" stroke="#1e1e1e" stroke-width="0.26">Neutrophils</text>
<text x="236.9" y="170.4" font-size="8.8" text-anchor="middle" textLength="41.6" lengthAdjust="spacingAndGlyphs" transform="rotate(-90 236.9 170.4)" stroke="#2b2b2b" stroke-width="0.26" dominant-baseline="central">Frequency (%)</text>
<line x1="268.1" y1="150.2" x2="279.4" y2="150.2" stroke="#8a8a8a" stroke-width="1.1"/>
<circle cx="269.4" cy="147.1" r="0.95" fill="#3a3a3a"/>
<circle cx="272.3" cy="147.1" r="0.95" fill="#3a3a3a"/>
<circle cx="275.2" cy="147.1" r="0.95" fill="#3a3a3a"/>
<circle cx="278.1" cy="147.1" r="0.95" fill="#3a3a3a"/>
<line x1="281.2" y1="147.9" x2="292.5" y2="147.9" stroke="#8a8a8a" stroke-width="1.1"/>
<circle cx="282.5" cy="144.7" r="0.95" fill="#3a3a3a"/>
<circle cx="285.4" cy="144.7" r="0.95" fill="#3a3a3a"/>
<circle cx="288.3" cy="144.7" r="0.95" fill="#3a3a3a"/>
<circle cx="291.2" cy="144.7" r="0.95" fill="#3a3a3a"/>
<line x1="281.2" y1="153.5" x2="307.5" y2="153.5" stroke="#8a8a8a" stroke-width="1.1"/>
<circle cx="290.05" cy="150.5" r="0.95" fill="#3a3a3a"/>
<circle cx="292.95" cy="150.5" r="0.95" fill="#3a3a3a"/>
<circle cx="295.85" cy="150.5" r="0.95" fill="#3a3a3a"/>
<circle cx="298.75" cy="150.5" r="0.95" fill="#3a3a3a"/>
<line x1="269.4" y1="225.4" x2="307.5" y2="225.4" stroke="#333" stroke-width="1.3"/>
<text x="288.45" y="235.1" font-size="8.2" text-anchor="middle" textLength="12.3" lengthAdjust="spacingAndGlyphs" stroke="#2b2b2b" stroke-width="0.26">CpG</text>
<line x1="262.1" y1="178" x2="271.3" y2="178" stroke="#555" stroke-width="0.8"/>
<circle cx="263.2" cy="176.3" r="1.3" fill="#ffffff" stroke="#262626" stroke-width="0.9"/>
<rect x="264.4" y="176.2" width="2.6" height="2.6" fill="#ffffff" stroke="#262626" stroke-width="0.5"/>
<polygon points="268.2,176.68 269.63,178.5 268.2,180.32 266.77,178.5" fill="#ffffff" stroke="#262626" stroke-width="0.5"/>
<circle cx="270.7" cy="178.5" r="1.3" fill="#ffffff" stroke="#262626" stroke-width="0.9"/>
<polygon points="263.7,177.71 262.14,180.57 265.26,180.57" fill="#ffffff" stroke="#262626" stroke-width="0.5"/>
<line x1="275.8" y1="169.5" x2="285" y2="169.5" stroke="#4e0c18" stroke-width="0.8"/>
<polygon points="280.4,162.78 278.9,165.53 281.9,165.53" fill="#4e0c18" stroke="#4e0c18" stroke-width="0.5"/>
<circle cx="280.4" cy="167.5" r="1.25" fill="#4e0c18" stroke="#4e0c18" stroke-width="0.55"/>
<circle cx="276.9" cy="170.6" r="1.25" fill="#4e0c18" stroke="#4e0c18" stroke-width="0.55"/>
<circle cx="280.4" cy="170.6" r="1.25" fill="#4e0c18" stroke="#4e0c18" stroke-width="0.55"/>
<circle cx="283.9" cy="170.6" r="1.25" fill="#4e0c18" stroke="#4e0c18" stroke-width="0.55"/>
<line x1="289.1" y1="179.6" x2="298.3" y2="179.6" stroke="#16213c" stroke-width="0.8"/>
<circle cx="290.2" cy="180" r="1.25" fill="#16213c" stroke="#16213c" stroke-width="0.55"/>
<circle cx="292.7" cy="179.3" r="1.25" fill="#16213c" stroke="#16213c" stroke-width="0.55"/>
<rect x="293.95" y="177.55" width="2.5" height="2.5" fill="#16213c" stroke="#16213c" stroke-width="0.5"/>
<circle cx="297.2" cy="179.5" r="1.25" fill="#16213c" stroke="#16213c" stroke-width="0.55"/>
<circle cx="293.7" cy="181" r="1.25" fill="#16213c" stroke="#16213c" stroke-width="0.55"/>
<line x1="302.8" y1="179.3" x2="312" y2="179.3" stroke="#2a5a24" stroke-width="0.8"/>
<circle cx="303.9" cy="179.4" r="1.25" fill="#2a5a24" stroke="#2a5a24" stroke-width="0.55"/>
<circle cx="306.4" cy="178.8" r="1.25" fill="#2a5a24" stroke="#2a5a24" stroke-width="0.55"/>
<rect x="307.65" y="176.55" width="2.5" height="2.5" fill="#2a5a24" stroke="#2a5a24" stroke-width="0.5"/>
<circle cx="310.9" cy="179.4" r="1.25" fill="#2a5a24" stroke="#2a5a24" stroke-width="0.55"/>
<circle cx="308.9" cy="181" r="1.25" fill="#2a5a24" stroke="#2a5a24" stroke-width="0.55"/>
<line x1="354.9" y1="146.7" x2="354.9" y2="198.3" stroke="#1e1e1e" stroke-width="1.5"/>
<line x1="352.3" y1="197.6" x2="413.6" y2="197.6" stroke="#1e1e1e" stroke-width="1.5"/>
<line x1="352.3" y1="147.3" x2="354.9" y2="147.3" stroke="#1e1e1e" stroke-width="1"/>
<text x="349" y="149.75" font-size="6.8" text-anchor="end" textLength="6.9" lengthAdjust="spacingAndGlyphs" stroke="#2b2b2b" stroke-width="0.2">40</text>
<line x1="352.3" y1="160" x2="354.9" y2="160" stroke="#1e1e1e" stroke-width="1"/>
<text x="349" y="162.45" font-size="6.8" text-anchor="end" textLength="6.9" lengthAdjust="spacingAndGlyphs" stroke="#2b2b2b" stroke-width="0.2">30</text>
<line x1="352.3" y1="172.5" x2="354.9" y2="172.5" stroke="#1e1e1e" stroke-width="1"/>
<text x="349" y="174.95" font-size="6.8" text-anchor="end" textLength="6.9" lengthAdjust="spacingAndGlyphs" stroke="#2b2b2b" stroke-width="0.2">20</text>
<line x1="352.3" y1="185.2" x2="354.9" y2="185.2" stroke="#1e1e1e" stroke-width="1"/>
<text x="349" y="187.65" font-size="6.8" text-anchor="end" textLength="6.9" lengthAdjust="spacingAndGlyphs" stroke="#2b2b2b" stroke-width="0.2">10</text>
<line x1="352.3" y1="197.6" x2="354.9" y2="197.6" stroke="#1e1e1e" stroke-width="1"/>
<text x="349" y="200.05" font-size="6.8" text-anchor="end" textLength="3.45" lengthAdjust="spacingAndGlyphs" stroke="#2b2b2b" stroke-width="0.2">0</text>
<line x1="363.7" y1="197.6" x2="363.7" y2="200.4" stroke="#1e1e1e" stroke-width="1"/>
<text x="365.9" y="208.2" font-size="6.9" text-anchor="end" textLength="15.5" lengthAdjust="spacingAndGlyphs" transform="rotate(-45 365.9 208.2)" stroke="#2b2b2b" stroke-width="0.26">Naive</text>
<line x1="377.3" y1="197.6" x2="377.3" y2="200.4" stroke="#1e1e1e" stroke-width="1"/>
<text x="379.5" y="208.2" font-size="6.9" text-anchor="end" textLength="8.7" lengthAdjust="spacingAndGlyphs" transform="rotate(-45 379.5 208.2)" stroke="#2b2b2b" stroke-width="0.26">Veh</text>
<line x1="390.7" y1="197.6" x2="390.7" y2="200.4" stroke="#1e1e1e" stroke-width="1"/>
<text x="392.9" y="208.2" font-size="6.9" text-anchor="end" textLength="17.2" lengthAdjust="spacingAndGlyphs" transform="rotate(-45 392.9 208.2)" stroke="#2b2b2b" stroke-width="0.26">STAT3i</text>
<line x1="404.4" y1="197.6" x2="404.4" y2="200.4" stroke="#1e1e1e" stroke-width="1"/>
<text x="406.6" y="208.2" font-size="6.9" text-anchor="end" textLength="17.2" lengthAdjust="spacingAndGlyphs" transform="rotate(-45 406.6 208.2)" stroke="#2b2b2b" stroke-width="0.26">STAT5i</text>
<text x="384.4" y="134.7" font-size="8.6" text-anchor="middle" fill="#1e1e1e" textLength="41.3" lengthAdjust="spacingAndGlyphs" stroke="#1e1e1e" stroke-width="0.26">Monocytes</text>
<text x="333.5" y="170.4" font-size="8.8" text-anchor="middle" textLength="41.6" lengthAdjust="spacingAndGlyphs" transform="rotate(-90 333.5 170.4)" stroke="#2b2b2b" stroke-width="0.26" dominant-baseline="central">Frequency (%)</text>
<line x1="365" y1="150.4" x2="376.3" y2="150.4" stroke="#8a8a8a" stroke-width="1.1"/>
<circle cx="366.25" cy="146.9" r="0.95" fill="#3a3a3a"/>
<circle cx="369.15" cy="146.9" r="0.95" fill="#3a3a3a"/>
<circle cx="372.05" cy="146.9" r="0.95" fill="#3a3a3a"/>
<circle cx="374.95" cy="146.9" r="0.95" fill="#3a3a3a"/>
<line x1="379" y1="148.1" x2="390.3" y2="148.1" stroke="#8a8a8a" stroke-width="1.1"/>
<circle cx="380.65" cy="144.6" r="0.95" fill="#3a3a3a"/>
<circle cx="383.55" cy="144.6" r="0.95" fill="#3a3a3a"/>
<circle cx="386.45" cy="144.6" r="0.95" fill="#3a3a3a"/>
<circle cx="389.35" cy="144.6" r="0.95" fill="#3a3a3a"/>
<line x1="378.5" y1="153.7" x2="404.4" y2="153.7" stroke="#8a8a8a" stroke-width="1.1"/>
<circle cx="386.95" cy="150.6" r="0.95" fill="#3a3a3a"/>
<circle cx="389.85" cy="150.6" r="0.95" fill="#3a3a3a"/>
<circle cx="392.75" cy="150.6" r="0.95" fill="#3a3a3a"/>
<circle cx="395.65" cy="150.6" r="0.95" fill="#3a3a3a"/>
<line x1="366.2" y1="225.5" x2="403.8" y2="225.5" stroke="#333" stroke-width="1.3"/>
<text x="385" y="235.1" font-size="8.2" text-anchor="middle" textLength="12.3" lengthAdjust="spacingAndGlyphs" stroke="#2b2b2b" stroke-width="0.26">CpG</text>
<line x1="359.1" y1="192.5" x2="368.3" y2="192.5" stroke="#555" stroke-width="0.8"/>
<circle cx="360.2" cy="193" r="1.3" fill="#ffffff" stroke="#262626" stroke-width="0.9"/>
<circle cx="362.7" cy="192.5" r="1.3" fill="#ffffff" stroke="#262626" stroke-width="0.9"/>
<rect x="363.9" y="190.2" width="2.6" height="2.6" fill="#ffffff" stroke="#262626" stroke-width="0.5"/>
<circle cx="367.2" cy="192" r="1.3" fill="#ffffff" stroke="#262626" stroke-width="0.9"/>
<line x1="377.3" y1="171.2" x2="377.3" y2="174.4" stroke="#4e0c18" stroke-width="0.8"/>
<line x1="375" y1="171.2" x2="379.6" y2="171.2" stroke="#4e0c18" stroke-width="0.8"/>
<line x1="377.3" y1="174.4" x2="377.3" y2="177.8" stroke="#4e0c18" stroke-width="0.8"/>
<line x1="375" y1="177.8" x2="379.6" y2="177.8" stroke="#4e0c18" stroke-width="0.8"/>
<line x1="372.7" y1="174.4" x2="381.9" y2="174.4" stroke="#4e0c18" stroke-width="0.8"/>
<circle cx="374.3" cy="170" r="1.25" fill="#4e0c18" stroke="#4e0c18" stroke-width="0.55"/>
<polygon points="377.8,172.62 376.3,169.88 379.3,169.88" fill="#4e0c18" stroke="#4e0c18" stroke-width="0.5"/>
<circle cx="374.3" cy="179.4" r="1.25" fill="#4e0c18" stroke="#4e0c18" stroke-width="0.55"/>
<circle cx="380.6" cy="178.1" r="1.25" fill="#4e0c18" stroke="#4e0c18" stroke-width="0.55"/>
<line x1="390.7" y1="187.5" x2="390.7" y2="190" stroke="#16213c" stroke-width="0.8"/>
<line x1="388.4" y1="187.5" x2="393" y2="187.5" stroke="#16213c" stroke-width="0.8"/>
<line x1="390.7" y1="190" x2="390.7" y2="192.2" stroke="#16213c" stroke-width="0.8"/>
<line x1="388.4" y1="192.2" x2="393" y2="192.2" stroke="#16213c" stroke-width="0.8"/>
<line x1="386.1" y1="190" x2="395.3" y2="190" stroke="#16213c" stroke-width="0.8"/>
<polygon points="390.7,184.88 389.2,187.62 392.2,187.62" fill="#16213c" stroke="#16213c" stroke-width="0.5"/>
<circle cx="387.2" cy="191.3" r="1.25" fill="#16213c" stroke="#16213c" stroke-width="0.55"/>
<circle cx="389.7" cy="191.3" r="1.25" fill="#16213c" stroke="#16213c" stroke-width="0.55"/>
<rect x="390.95" y="189.25" width="2.5" height="2.5" fill="#16213c" stroke="#16213c" stroke-width="0.5"/>
<circle cx="394.7" cy="191.3" r="1.25" fill="#16213c" stroke="#16213c" stroke-width="0.55"/>
<line x1="399.8" y1="193" x2="409" y2="193" stroke="#2a5a24" stroke-width="0.8"/>
<circle cx="400.9" cy="193.6" r="1.25" fill="#2a5a24" stroke="#2a5a24" stroke-width="0.55"/>
<circle cx="403.4" cy="192.5" r="1.25" fill="#2a5a24" stroke="#2a5a24" stroke-width="0.55"/>
<rect x="404.65" y="190.65" width="2.5" height="2.5" fill="#2a5a24" stroke="#2a5a24" stroke-width="0.5"/>
<circle cx="408.4" cy="192.5" r="1.25" fill="#2a5a24" stroke="#2a5a24" stroke-width="0.55"/>
<circle cx="405.9" cy="194.4" r="1.25" fill="#2a5a24" stroke="#2a5a24" stroke-width="0.55"/>
<line x1="454.2" y1="146.9" x2="454.2" y2="198.3" stroke="#1e1e1e" stroke-width="1.5"/>
<line x1="451.6" y1="197.6" x2="512.8" y2="197.6" stroke="#1e1e1e" stroke-width="1.5"/>
<line x1="451.6" y1="147.5" x2="454.2" y2="147.5" stroke="#1e1e1e" stroke-width="1"/>
<text x="448.1" y="149.95" font-size="6.8" text-anchor="end" textLength="10.35" lengthAdjust="spacingAndGlyphs" stroke="#2b2b2b" stroke-width="0.2">100</text>
<line x1="451.6" y1="160" x2="454.2" y2="160" stroke="#1e1e1e" stroke-width="1"/>
<text x="448.1" y="162.45" font-size="6.8" text-anchor="end" textLength="6.9" lengthAdjust="spacingAndGlyphs" stroke="#2b2b2b" stroke-width="0.2">75</text>
<line x1="451.6" y1="172.5" x2="454.2" y2="172.5" stroke="#1e1e1e" stroke-width="1"/>
<text x="448.1" y="174.95" font-size="6.8" text-anchor="end" textLength="6.9" lengthAdjust="spacingAndGlyphs" stroke="#2b2b2b" stroke-width="0.2">50</text>
<line x1="451.6" y1="185.2" x2="454.2" y2="185.2" stroke="#1e1e1e" stroke-width="1"/>
<text x="448.1" y="187.65" font-size="6.8" text-anchor="end" textLength="6.9" lengthAdjust="spacingAndGlyphs" stroke="#2b2b2b" stroke-width="0.2">25</text>
<line x1="451.6" y1="197.6" x2="454.2" y2="197.6" stroke="#1e1e1e" stroke-width="1"/>
<text x="448.1" y="200.05" font-size="6.8" text-anchor="end" textLength="3.45" lengthAdjust="spacingAndGlyphs" stroke="#2b2b2b" stroke-width="0.2">0</text>
<line x1="463.5" y1="197.6" x2="463.5" y2="200.4" stroke="#1e1e1e" stroke-width="1"/>
<text x="465.7" y="208.2" font-size="6.9" text-anchor="end" textLength="15.5" lengthAdjust="spacingAndGlyphs" transform="rotate(-45 465.7 208.2)" stroke="#2b2b2b" stroke-width="0.26">Naive</text>
<line x1="476.9" y1="197.6" x2="476.9" y2="200.4" stroke="#1e1e1e" stroke-width="1"/>
<text x="479.1" y="208.2" font-size="6.9" text-anchor="end" textLength="8.7" lengthAdjust="spacingAndGlyphs" transform="rotate(-45 479.1 208.2)" stroke="#2b2b2b" stroke-width="0.26">Veh</text>
<line x1="490.3" y1="197.6" x2="490.3" y2="200.4" stroke="#1e1e1e" stroke-width="1"/>
<text x="492.5" y="208.2" font-size="6.9" text-anchor="end" textLength="17.2" lengthAdjust="spacingAndGlyphs" transform="rotate(-45 492.5 208.2)" stroke="#2b2b2b" stroke-width="0.26">STAT3i</text>
<line x1="504" y1="197.6" x2="504" y2="200.4" stroke="#1e1e1e" stroke-width="1"/>
<text x="506.2" y="208.2" font-size="6.9" text-anchor="end" textLength="17.2" lengthAdjust="spacingAndGlyphs" transform="rotate(-45 506.2 208.2)" stroke="#2b2b2b" stroke-width="0.26">STAT5i</text>
<text x="484.1" y="134.7" font-size="8.6" text-anchor="middle" fill="#1e1e1e" textLength="49.4" lengthAdjust="spacingAndGlyphs" stroke="#1e1e1e" stroke-width="0.26">Lymphoctyes</text>
<text x="430" y="170.4" font-size="8.8" text-anchor="middle" textLength="41.6" lengthAdjust="spacingAndGlyphs" transform="rotate(-90 430 170.4)" stroke="#2b2b2b" stroke-width="0.26" dominant-baseline="central">Frequency (%)</text>
<line x1="464.4" y1="147.5" x2="476.3" y2="147.5" stroke="#8a8a8a" stroke-width="1.1"/>
<circle cx="466.25" cy="144.4" r="0.95" fill="#3a3a3a"/>
<circle cx="469.15" cy="144.4" r="0.95" fill="#3a3a3a"/>
<circle cx="472.05" cy="144.4" r="0.95" fill="#3a3a3a"/>
<circle cx="474.95" cy="144.4" r="0.95" fill="#3a3a3a"/>
<line x1="478.1" y1="145" x2="489.4" y2="145" stroke="#8a8a8a" stroke-width="1.1"/>
<circle cx="479.65" cy="141.6" r="0.95" fill="#3a3a3a"/>
<circle cx="482.55" cy="141.6" r="0.95" fill="#3a3a3a"/>
<circle cx="485.45" cy="141.6" r="0.95" fill="#3a3a3a"/>
<circle cx="488.35" cy="141.6" r="0.95" fill="#3a3a3a"/>
<line x1="478.1" y1="150.6" x2="503.8" y2="150.6" stroke="#8a8a8a" stroke-width="1.1"/>
<circle cx="486.95" cy="147.5" r="0.95" fill="#3a3a3a"/>
<circle cx="489.85" cy="147.5" r="0.95" fill="#3a3a3a"/>
<circle cx="492.75" cy="147.5" r="0.95" fill="#3a3a3a"/>
<circle cx="495.65" cy="147.5" r="0.95" fill="#3a3a3a"/>
<line x1="466.5" y1="225.3" x2="504" y2="225.3" stroke="#333" stroke-width="1.3"/>
<text x="485.25" y="235.2" font-size="8.2" text-anchor="middle" textLength="12.3" lengthAdjust="spacingAndGlyphs" stroke="#2b2b2b" stroke-width="0.26">CpG</text>
<line x1="458.9" y1="155.2" x2="468.1" y2="155.2" stroke="#555" stroke-width="0.8"/>
<circle cx="459.5" cy="155" r="1.3" fill="#ffffff" stroke="#262626" stroke-width="0.9"/>
<rect x="460.7" y="154.5" width="2.6" height="2.6" fill="#ffffff" stroke="#262626" stroke-width="0.5"/>
<circle cx="464.5" cy="155" r="1.3" fill="#ffffff" stroke="#262626" stroke-width="0.9"/>
<circle cx="467" cy="155.3" r="1.3" fill="#ffffff" stroke="#262626" stroke-width="0.9"/>
<line x1="472.3" y1="163.5" x2="481.5" y2="163.5" stroke="#4e0c18" stroke-width="0.8"/>
<polygon points="476.9,158.07 475.4,160.82 478.4,160.82" fill="#4e0c18" stroke="#4e0c18" stroke-width="0.5"/>
<circle cx="473.4" cy="164.4" r="1.25" fill="#4e0c18" stroke="#4e0c18" stroke-width="0.55"/>
<rect x="474.65" y="163.15" width="2.5" height="2.5" fill="#4e0c18" stroke="#4e0c18" stroke-width="0.5"/>
<circle cx="478.4" cy="164.4" r="1.25" fill="#4e0c18" stroke="#4e0c18" stroke-width="0.55"/>
<circle cx="480.9" cy="164.4" r="1.25" fill="#4e0c18" stroke="#4e0c18" stroke-width="0.55"/>
<line x1="485.7" y1="154.7" x2="494.9" y2="154.7" stroke="#16213c" stroke-width="0.8"/>
<circle cx="486.8" cy="153.1" r="1.25" fill="#16213c" stroke="#16213c" stroke-width="0.55"/>
<circle cx="486.8" cy="157.2" r="1.25" fill="#16213c" stroke="#16213c" stroke-width="0.55"/>
<circle cx="489.3" cy="154.7" r="1.25" fill="#16213c" stroke="#16213c" stroke-width="0.55"/>
<rect x="490.55" y="153.45" width="2.5" height="2.5" fill="#16213c" stroke="#16213c" stroke-width="0.5"/>
<circle cx="494.3" cy="154.7" r="1.25" fill="#16213c" stroke="#16213c" stroke-width="0.55"/>
<line x1="499.4" y1="154.3" x2="508.6" y2="154.3" stroke="#2a5a24" stroke-width="0.8"/>
<circle cx="500" cy="155" r="1.25" fill="#2a5a24" stroke="#2a5a24" stroke-width="0.55"/>
<circle cx="502.5" cy="154" r="1.25" fill="#2a5a24" stroke="#2a5a24" stroke-width="0.55"/>
<rect x="503.75" y="152.25" width="2.5" height="2.5" fill="#2a5a24" stroke="#2a5a24" stroke-width="0.5"/>
<circle cx="507.5" cy="154.3" r="1.25" fill="#2a5a24" stroke="#2a5a24" stroke-width="0.55"/>
<line x1="244.8" y1="276.7" x2="244.8" y2="331.9" stroke="#1e1e1e" stroke-width="1.5"/>
<line x1="242.2" y1="331.2" x2="304.6" y2="331.2" stroke="#1e1e1e" stroke-width="1.5"/>
<line x1="242.2" y1="277.3" x2="244.8" y2="277.3" stroke="#1e1e1e" stroke-width="1"/>
<text x="238.5" y="279.75" font-size="6.8" text-anchor="end" textLength="10.35" lengthAdjust="spacingAndGlyphs" stroke="#2b2b2b" stroke-width="0.2">400</text>
<line x1="242.2" y1="291" x2="244.8" y2="291" stroke="#1e1e1e" stroke-width="1"/>
<text x="238.5" y="293.45" font-size="6.8" text-anchor="end" textLength="10.35" lengthAdjust="spacingAndGlyphs" stroke="#2b2b2b" stroke-width="0.2">300</text>
<line x1="242.2" y1="304.4" x2="244.8" y2="304.4" stroke="#1e1e1e" stroke-width="1"/>
<text x="238.5" y="306.85" font-size="6.8" text-anchor="end" textLength="10.35" lengthAdjust="spacingAndGlyphs" stroke="#2b2b2b" stroke-width="0.2">200</text>
<line x1="242.2" y1="318.1" x2="244.8" y2="318.1" stroke="#1e1e1e" stroke-width="1"/>
<text x="238.5" y="320.55" font-size="6.8" text-anchor="end" textLength="10.35" lengthAdjust="spacingAndGlyphs" stroke="#2b2b2b" stroke-width="0.2">100</text>
<line x1="242.2" y1="331.2" x2="244.8" y2="331.2" stroke="#1e1e1e" stroke-width="1"/>
<text x="238.5" y="333.65" font-size="6.8" text-anchor="end" textLength="3.45" lengthAdjust="spacingAndGlyphs" stroke="#2b2b2b" stroke-width="0.2">0</text>
<line x1="254.4" y1="331.2" x2="254.4" y2="334" stroke="#1e1e1e" stroke-width="1"/>
<text x="256.6" y="341.8" font-size="6.9" text-anchor="end" textLength="15.5" lengthAdjust="spacingAndGlyphs" transform="rotate(-45 256.6 341.8)" stroke="#2b2b2b" stroke-width="0.26">Naive</text>
<line x1="269" y1="331.2" x2="269" y2="334" stroke="#1e1e1e" stroke-width="1"/>
<text x="271.2" y="341.8" font-size="6.9" text-anchor="end" textLength="8.7" lengthAdjust="spacingAndGlyphs" transform="rotate(-45 271.2 341.8)" stroke="#2b2b2b" stroke-width="0.26">Veh</text>
<line x1="283.3" y1="331.2" x2="283.3" y2="334" stroke="#1e1e1e" stroke-width="1"/>
<text x="285.5" y="341.8" font-size="6.9" text-anchor="end" textLength="17.2" lengthAdjust="spacingAndGlyphs" transform="rotate(-45 285.5 341.8)" stroke="#2b2b2b" stroke-width="0.26">STAT3i</text>
<line x1="297.6" y1="331.2" x2="297.6" y2="334" stroke="#1e1e1e" stroke-width="1"/>
<text x="299.8" y="341.8" font-size="6.9" text-anchor="end" textLength="17.2" lengthAdjust="spacingAndGlyphs" transform="rotate(-45 299.8 341.8)" stroke="#2b2b2b" stroke-width="0.26">STAT5i</text>
<text x="276.4" y="269.9" font-size="8.6" text-anchor="middle" fill="#1e1e1e" textLength="13.4" lengthAdjust="spacingAndGlyphs" stroke="#1e1e1e" stroke-width="0.26">IL-6</text>
<text x="220" y="302.8" font-size="8.8" text-anchor="middle" textLength="18" lengthAdjust="spacingAndGlyphs" transform="rotate(-90 220 302.8)" stroke="#2b2b2b" stroke-width="0.26" dominant-baseline="central">pg/mL</text>
<line x1="258.1" y1="284.4" x2="269.4" y2="284.4" stroke="#8a8a8a" stroke-width="1.1"/>
<circle cx="263.8" cy="281.2" r="0.95" fill="#3a3a3a"/>
<line x1="273.1" y1="284.4" x2="284" y2="284.4" stroke="#8a8a8a" stroke-width="1.1"/>
<circle cx="278.5" cy="281.2" r="0.95" fill="#3a3a3a"/>
<line x1="273.1" y1="292.1" x2="296.9" y2="292.1" stroke="#8a8a8a" stroke-width="1.1"/>
<circle cx="285" cy="288.7" r="0.95" fill="#3a3a3a"/>
<line x1="266.9" y1="359.1" x2="301.9" y2="359.1" stroke="#333" stroke-width="1.3"/>
<text x="284.4" y="369.4" font-size="8.2" text-anchor="middle" textLength="12.3" lengthAdjust="spacingAndGlyphs" stroke="#2b2b2b" stroke-width="0.26">CpG</text>
<rect x="250.05" y="330.6" width="8.7" height="-0" fill="#e2e2e2" stroke="#cfcfcf" stroke-width="0.6"/>
<rect x="264.65" y="317.2" width="8.7" height="13.4" fill="#ea8a80" stroke="#dc6e64" stroke-width="0.6"/>
<rect x="278.95" y="330.4" width="8.7" height="0.2" fill="#8497c3" stroke="#6f83b2" stroke-width="0.6"/>
<rect x="293.25" y="330.6" width="8.7" height="-0" fill="#a9d68f" stroke="#93c579" stroke-width="0.6"/>
<circle cx="250.65" cy="330.3" r="1.3" fill="#ffffff" stroke="#262626" stroke-width="0.9"/>
<circle cx="253.15" cy="330.3" r="1.3" fill="#ffffff" stroke="#262626" stroke-width="0.9"/>
<circle cx="255.65" cy="330.3" r="1.3" fill="#ffffff" stroke="#262626" stroke-width="0.9"/>
<circle cx="258.15" cy="330.3" r="1.3" fill="#ffffff" stroke="#262626" stroke-width="0.9"/>
<line x1="269" y1="303.3" x2="269" y2="317.2" stroke="#777" stroke-width="0.8"/>
<line x1="266.7" y1="303.3" x2="271.3" y2="303.3" stroke="#777" stroke-width="0.8"/>
<line x1="269" y1="317.2" x2="269" y2="334.5" stroke="#777" stroke-width="0.8"/>
<line x1="266.7" y1="334.5" x2="271.3" y2="334.5" stroke="#777" stroke-width="0.8"/>
<circle cx="269" cy="297.3" r="1.25" fill="#4e0c18" stroke="#4e0c18" stroke-width="0.55"/>
<circle cx="269" cy="321.3" r="1.25" fill="#4e0c18" stroke="#4e0c18" stroke-width="0.55"/>
<circle cx="265.4" cy="325.6" r="1.25" fill="#4e0c18" stroke="#4e0c18" stroke-width="0.55"/>
<circle cx="272.3" cy="325.6" r="1.25" fill="#4e0c18" stroke="#4e0c18" stroke-width="0.55"/>
<circle cx="279.55" cy="330.3" r="1.25" fill="#16213c" stroke="#16213c" stroke-width="0.55"/>
<circle cx="282.05" cy="330.3" r="1.25" fill="#16213c" stroke="#16213c" stroke-width="0.55"/>
<circle cx="284.55" cy="330.3" r="1.25" fill="#16213c" stroke="#16213c" stroke-width="0.55"/>
<circle cx="287.05" cy="330.3" r="1.25" fill="#16213c" stroke="#16213c" stroke-width="0.55"/>
<circle cx="293.85" cy="330.3" r="1.25" fill="#2a5a24" stroke="#2a5a24" stroke-width="0.55"/>
<circle cx="296.35" cy="330.3" r="1.25" fill="#2a5a24" stroke="#2a5a24" stroke-width="0.55"/>
<circle cx="298.85" cy="330.3" r="1.25" fill="#2a5a24" stroke="#2a5a24" stroke-width="0.55"/>
<circle cx="301.35" cy="330.3" r="1.25" fill="#2a5a24" stroke="#2a5a24" stroke-width="0.55"/>
<line x1="348.5" y1="277.1" x2="348.5" y2="331.9" stroke="#1e1e1e" stroke-width="1.5"/>
<line x1="345.9" y1="331.2" x2="408.6" y2="331.2" stroke="#1e1e1e" stroke-width="1.5"/>
<line x1="345.9" y1="277.7" x2="348.5" y2="277.7" stroke="#1e1e1e" stroke-width="1"/>
<text x="342.5" y="280.15" font-size="6.8" text-anchor="end" textLength="10.35" lengthAdjust="spacingAndGlyphs" stroke="#2b2b2b" stroke-width="0.2">320</text>
<line x1="345.9" y1="291.2" x2="348.5" y2="291.2" stroke="#1e1e1e" stroke-width="1"/>
<text x="342.5" y="293.65" font-size="6.8" text-anchor="end" textLength="10.35" lengthAdjust="spacingAndGlyphs" stroke="#2b2b2b" stroke-width="0.2">240</text>
<line x1="345.9" y1="304.4" x2="348.5" y2="304.4" stroke="#1e1e1e" stroke-width="1"/>
<text x="342.5" y="306.85" font-size="6.8" text-anchor="end" textLength="10.35" lengthAdjust="spacingAndGlyphs" stroke="#2b2b2b" stroke-width="0.2">160</text>
<line x1="345.9" y1="317.5" x2="348.5" y2="317.5" stroke="#1e1e1e" stroke-width="1"/>
<text x="342.5" y="319.95" font-size="6.8" text-anchor="end" textLength="6.9" lengthAdjust="spacingAndGlyphs" stroke="#2b2b2b" stroke-width="0.2">80</text>
<line x1="345.9" y1="331.2" x2="348.5" y2="331.2" stroke="#1e1e1e" stroke-width="1"/>
<text x="342.5" y="333.65" font-size="6.8" text-anchor="end" textLength="3.45" lengthAdjust="spacingAndGlyphs" stroke="#2b2b2b" stroke-width="0.2">0</text>
<line x1="358.1" y1="331.2" x2="358.1" y2="334" stroke="#1e1e1e" stroke-width="1"/>
<text x="360.3" y="341.8" font-size="6.9" text-anchor="end" textLength="15.5" lengthAdjust="spacingAndGlyphs" transform="rotate(-45 360.3 341.8)" stroke="#2b2b2b" stroke-width="0.26">Naive</text>
<line x1="372.7" y1="331.2" x2="372.7" y2="334" stroke="#1e1e1e" stroke-width="1"/>
<text x="374.9" y="341.8" font-size="6.9" text-anchor="end" textLength="8.7" lengthAdjust="spacingAndGlyphs" transform="rotate(-45 374.9 341.8)" stroke="#2b2b2b" stroke-width="0.26">Veh</text>
<line x1="387.2" y1="331.2" x2="387.2" y2="334" stroke="#1e1e1e" stroke-width="1"/>
<text x="389.4" y="341.8" font-size="6.9" text-anchor="end" textLength="17.2" lengthAdjust="spacingAndGlyphs" transform="rotate(-45 389.4 341.8)" stroke="#2b2b2b" stroke-width="0.26">STAT3i</text>
<line x1="401.5" y1="331.2" x2="401.5" y2="334" stroke="#1e1e1e" stroke-width="1"/>
<text x="403.7" y="341.8" font-size="6.9" text-anchor="end" textLength="17.2" lengthAdjust="spacingAndGlyphs" transform="rotate(-45 403.7 341.8)" stroke="#2b2b2b" stroke-width="0.26">STAT5i</text>
<text x="380.2" y="269.7" font-size="8.6" text-anchor="middle" fill="#1e1e1e" textLength="24.1" lengthAdjust="spacingAndGlyphs" stroke="#1e1e1e" stroke-width="0.26">TNF-α</text>
<text x="324.4" y="302.8" font-size="8.8" text-anchor="middle" textLength="18" lengthAdjust="spacingAndGlyphs" transform="rotate(-90 324.4 302.8)" stroke="#2b2b2b" stroke-width="0.26" dominant-baseline="central">pg/mL</text>
<line x1="361.9" y1="283.5" x2="372.5" y2="283.5" stroke="#8a8a8a" stroke-width="1.1"/>
<circle cx="365.75" cy="280.4" r="0.95" fill="#3a3a3a"/>
<circle cx="368.65" cy="280.4" r="0.95" fill="#3a3a3a"/>
<line x1="376.9" y1="283.5" x2="387.7" y2="283.5" stroke="#8a8a8a" stroke-width="1.1"/>
<circle cx="380.75" cy="280.4" r="0.95" fill="#3a3a3a"/>
<circle cx="383.65" cy="280.4" r="0.95" fill="#3a3a3a"/>
<line x1="376.9" y1="291.2" x2="400.2" y2="291.2" stroke="#8a8a8a" stroke-width="1.1"/>
<circle cx="387.05" cy="288.1" r="0.95" fill="#3a3a3a"/>
<circle cx="389.95" cy="288.1" r="0.95" fill="#3a3a3a"/>
<line x1="369.7" y1="359.1" x2="405.8" y2="359.1" stroke="#333" stroke-width="1.3"/>
<text x="387.75" y="369.4" font-size="8.2" text-anchor="middle" textLength="12.3" lengthAdjust="spacingAndGlyphs" stroke="#2b2b2b" stroke-width="0.26">CpG</text>
<rect x="353.75" y="330.6" width="8.7" height="-0" fill="#e2e2e2" stroke="#cfcfcf" stroke-width="0.6"/>
<rect x="368.35" y="309.7" width="8.7" height="20.9" fill="#ea8a80" stroke="#dc6e64" stroke-width="0.6"/>
<rect x="382.85" y="329.3" width="8.7" height="1.3" fill="#8497c3" stroke="#6f83b2" stroke-width="0.6"/>
<rect x="397.15" y="329.1" width="8.7" height="1.5" fill="#a9d68f" stroke="#93c579" stroke-width="0.6"/>
<circle cx="354.35" cy="330.3" r="1.3" fill="#ffffff" stroke="#262626" stroke-width="0.9"/>
<circle cx="356.85" cy="330.3" r="1.3" fill="#ffffff" stroke="#262626" stroke-width="0.9"/>
<circle cx="359.35" cy="330.3" r="1.3" fill="#ffffff" stroke="#262626" stroke-width="0.9"/>
<circle cx="361.85" cy="330.3" r="1.3" fill="#ffffff" stroke="#262626" stroke-width="0.9"/>
<line x1="372.7" y1="294" x2="372.7" y2="309.7" stroke="#555" stroke-width="0.8"/>
<line x1="370.4" y1="294" x2="375" y2="294" stroke="#555" stroke-width="0.8"/>
<line x1="372.7" y1="309.7" x2="372.7" y2="326" stroke="#555" stroke-width="0.8"/>
<line x1="370.4" y1="326" x2="375" y2="326" stroke="#555" stroke-width="0.8"/>
<circle cx="372.7" cy="287.2" r="1.25" fill="#4e0c18" stroke="#4e0c18" stroke-width="0.55"/>
<circle cx="372.7" cy="312.5" r="1.25" fill="#4e0c18" stroke="#4e0c18" stroke-width="0.55"/>
<circle cx="372.7" cy="316" r="1.25" fill="#4e0c18" stroke="#4e0c18" stroke-width="0.55"/>
<circle cx="372.7" cy="323.5" r="1.25" fill="#4e0c18" stroke="#4e0c18" stroke-width="0.55"/>
<circle cx="383.45" cy="329.6" r="1.25" fill="#16213c" stroke="#16213c" stroke-width="0.55"/>
<circle cx="385.95" cy="329.6" r="1.25" fill="#16213c" stroke="#16213c" stroke-width="0.55"/>
<circle cx="388.45" cy="329.6" r="1.25" fill="#16213c" stroke="#16213c" stroke-width="0.55"/>
<circle cx="390.95" cy="329.6" r="1.25" fill="#16213c" stroke="#16213c" stroke-width="0.55"/>
<circle cx="397.9" cy="329.9" r="1.25" fill="#2a5a24" stroke="#2a5a24" stroke-width="0.55"/>
<circle cx="400.3" cy="329.3" r="1.25" fill="#2a5a24" stroke="#2a5a24" stroke-width="0.55"/>
<polygon points="402.7,326.98 401.2,329.73 404.2,329.73" fill="#2a5a24" stroke="#2a5a24" stroke-width="0.5"/>
<circle cx="405.1" cy="329.6" r="1.25" fill="#2a5a24" stroke="#2a5a24" stroke-width="0.55"/>
<line x1="450.2" y1="276.9" x2="450.2" y2="331.9" stroke="#1e1e1e" stroke-width="1.5"/>
<line x1="447.6" y1="331.2" x2="511" y2="331.2" stroke="#1e1e1e" stroke-width="1.5"/>
<line x1="447.6" y1="277.5" x2="450.2" y2="277.5" stroke="#1e1e1e" stroke-width="1"/>
<text x="443.8" y="279.95" font-size="6.8" text-anchor="end" textLength="10.35" lengthAdjust="spacingAndGlyphs" stroke="#2b2b2b" stroke-width="0.2">300</text>
<line x1="447.6" y1="291.2" x2="450.2" y2="291.2" stroke="#1e1e1e" stroke-width="1"/>
<text x="443.8" y="293.65" font-size="6.8" text-anchor="end" textLength="10.35" lengthAdjust="spacingAndGlyphs" stroke="#2b2b2b" stroke-width="0.2">225</text>
<line x1="447.6" y1="304.4" x2="450.2" y2="304.4" stroke="#1e1e1e" stroke-width="1"/>
<text x="443.8" y="306.85" font-size="6.8" text-anchor="end" textLength="10.35" lengthAdjust="spacingAndGlyphs" stroke="#2b2b2b" stroke-width="0.2">150</text>
<line x1="447.6" y1="317.5" x2="450.2" y2="317.5" stroke="#1e1e1e" stroke-width="1"/>
<text x="443.8" y="319.95" font-size="6.8" text-anchor="end" textLength="6.9" lengthAdjust="spacingAndGlyphs" stroke="#2b2b2b" stroke-width="0.2">75</text>
<line x1="447.6" y1="331.2" x2="450.2" y2="331.2" stroke="#1e1e1e" stroke-width="1"/>
<text x="443.8" y="333.65" font-size="6.8" text-anchor="end" textLength="3.45" lengthAdjust="spacingAndGlyphs" stroke="#2b2b2b" stroke-width="0.2">0</text>
<line x1="459.4" y1="331.2" x2="459.4" y2="334" stroke="#1e1e1e" stroke-width="1"/>
<text x="461.6" y="341.8" font-size="6.9" text-anchor="end" textLength="15.5" lengthAdjust="spacingAndGlyphs" transform="rotate(-45 461.6 341.8)" stroke="#2b2b2b" stroke-width="0.26">Naive</text>
<line x1="474" y1="331.2" x2="474" y2="334" stroke="#1e1e1e" stroke-width="1"/>
<text x="476.2" y="341.8" font-size="6.9" text-anchor="end" textLength="8.7" lengthAdjust="spacingAndGlyphs" transform="rotate(-45 476.2 341.8)" stroke="#2b2b2b" stroke-width="0.26">Veh</text>
<line x1="488.7" y1="331.2" x2="488.7" y2="334" stroke="#1e1e1e" stroke-width="1"/>
<text x="490.9" y="341.8" font-size="6.9" text-anchor="end" textLength="17.2" lengthAdjust="spacingAndGlyphs" transform="rotate(-45 490.9 341.8)" stroke="#2b2b2b" stroke-width="0.26">STAT3i</text>
<line x1="503.2" y1="331.2" x2="503.2" y2="334" stroke="#1e1e1e" stroke-width="1"/>
<text x="505.4" y="341.8" font-size="6.9" text-anchor="end" textLength="17.2" lengthAdjust="spacingAndGlyphs" transform="rotate(-45 505.4 341.8)" stroke="#2b2b2b" stroke-width="0.26">STAT5i</text>
<text x="481.2" y="269.7" font-size="8.6" text-anchor="middle" fill="#1e1e1e" textLength="25" lengthAdjust="spacingAndGlyphs" stroke="#1e1e1e" stroke-width="0.26">MCP-1</text>
<text x="425.6" y="302.8" font-size="8.8" text-anchor="middle" textLength="18" lengthAdjust="spacingAndGlyphs" transform="rotate(-90 425.6 302.8)" stroke="#2b2b2b" stroke-width="0.26" dominant-baseline="central">pg/mL</text>
<line x1="463.5" y1="283.5" x2="474.7" y2="283.5" stroke="#8a8a8a" stroke-width="1.1"/>
<circle cx="464.75" cy="280.4" r="0.95" fill="#3a3a3a"/>
<circle cx="467.65" cy="280.4" r="0.95" fill="#3a3a3a"/>
<circle cx="470.55" cy="280.4" r="0.95" fill="#3a3a3a"/>
<circle cx="473.45" cy="280.4" r="0.95" fill="#3a3a3a"/>
<line x1="478.5" y1="283.5" x2="489.4" y2="283.5" stroke="#8a8a8a" stroke-width="1.1"/>
<circle cx="479.6" cy="280.4" r="0.95" fill="#3a3a3a"/>
<circle cx="482.5" cy="280.4" r="0.95" fill="#3a3a3a"/>
<circle cx="485.4" cy="280.4" r="0.95" fill="#3a3a3a"/>
<circle cx="488.3" cy="280.4" r="0.95" fill="#3a3a3a"/>
<line x1="478.5" y1="291.2" x2="502.2" y2="291.2" stroke="#8a8a8a" stroke-width="1.1"/>
<circle cx="485.35" cy="287.9" r="0.95" fill="#3a3a3a"/>
<circle cx="488.25" cy="287.9" r="0.95" fill="#3a3a3a"/>
<circle cx="491.15" cy="287.9" r="0.95" fill="#3a3a3a"/>
<circle cx="494.05" cy="287.9" r="0.95" fill="#3a3a3a"/>
<line x1="471.2" y1="359.1" x2="506.5" y2="359.1" stroke="#333" stroke-width="1.3"/>
<text x="488.85" y="369.4" font-size="8.2" text-anchor="middle" textLength="12.3" lengthAdjust="spacingAndGlyphs" stroke="#2b2b2b" stroke-width="0.26">CpG</text>
<rect x="455.05" y="327.6" width="8.7" height="3" fill="#e2e2e2" stroke="#cfcfcf" stroke-width="0.6"/>
<rect x="469.65" y="301.2" width="8.7" height="29.4" fill="#ea8a80" stroke="#dc6e64" stroke-width="0.6"/>
<rect x="484.35" y="328.6" width="8.7" height="2" fill="#8497c3" stroke="#6f83b2" stroke-width="0.6"/>
<rect x="498.85" y="329" width="8.7" height="1.6" fill="#a9d68f" stroke="#93c579" stroke-width="0.6"/>
<circle cx="455.8" cy="329.3" r="1.3" fill="#ffffff" stroke="#262626" stroke-width="0.9"/>
<circle cx="458" cy="327" r="1.3" fill="#ffffff" stroke="#262626" stroke-width="0.9"/>
<circle cx="460.6" cy="328.9" r="1.3" fill="#ffffff" stroke="#262626" stroke-width="0.9"/>
<circle cx="463" cy="329.6" r="1.3" fill="#ffffff" stroke="#262626" stroke-width="0.9"/>
<circle cx="457.4" cy="326.5" r="1.3" fill="#ffffff" stroke="#262626" stroke-width="0.9"/>
<line x1="474" y1="293.1" x2="474" y2="301.2" stroke="#5a1520" stroke-width="0.8"/>
<line x1="471.7" y1="293.1" x2="476.3" y2="293.1" stroke="#5a1520" stroke-width="0.8"/>
<line x1="474" y1="301.2" x2="474" y2="309" stroke="#5a1520" stroke-width="0.8"/>
<line x1="471.7" y1="309" x2="476.3" y2="309" stroke="#5a1520" stroke-width="0.8"/>
<circle cx="470.6" cy="296.2" r="1.25" fill="#4e0c18" stroke="#4e0c18" stroke-width="0.55"/>
<circle cx="474" cy="297.5" r="1.25" fill="#4e0c18" stroke="#4e0c18" stroke-width="0.55"/>
<circle cx="477.7" cy="296.2" r="1.25" fill="#4e0c18" stroke="#4e0c18" stroke-width="0.55"/>
<circle cx="474" cy="311.9" r="1.25" fill="#4e0c18" stroke="#4e0c18" stroke-width="0.55"/>
<circle cx="485.1" cy="329.3" r="1.25" fill="#16213c" stroke="#16213c" stroke-width="0.55"/>
<circle cx="487.5" cy="328.6" r="1.25" fill="#16213c" stroke="#16213c" stroke-width="0.55"/>
<circle cx="489.9" cy="328.3" r="1.25" fill="#16213c" stroke="#16213c" stroke-width="0.55"/>
<circle cx="492.3" cy="329" r="1.25" fill="#16213c" stroke="#16213c" stroke-width="0.55"/>
<circle cx="499.6" cy="329.6" r="1.25" fill="#2a5a24" stroke="#2a5a24" stroke-width="0.55"/>
<polygon points="502,326.98 500.5,329.73 503.5,329.73" fill="#2a5a24" stroke="#2a5a24" stroke-width="0.5"/>
<circle cx="504.4" cy="329.3" r="1.25" fill="#2a5a24" stroke="#2a5a24" stroke-width="0.55"/>
<circle cx="506.8" cy="329.6" r="1.25" fill="#2a5a24" stroke="#2a5a24" stroke-width="0.55"/>
<line x1="244.9" y1="408.4" x2="244.9" y2="463.8" stroke="#1e1e1e" stroke-width="1.5"/>
<line x1="242.3" y1="463.1" x2="304" y2="463.1" stroke="#1e1e1e" stroke-width="1.5"/>
<line x1="242.3" y1="409" x2="244.9" y2="409" stroke="#1e1e1e" stroke-width="1"/>
<text x="238.5" y="411.45" font-size="6.8" text-anchor="end" textLength="10.35" lengthAdjust="spacingAndGlyphs" stroke="#2b2b2b" stroke-width="0.2">100</text>
<line x1="242.3" y1="422.5" x2="244.9" y2="422.5" stroke="#1e1e1e" stroke-width="1"/>
<text x="238.5" y="424.95" font-size="6.8" text-anchor="end" textLength="6.9" lengthAdjust="spacingAndGlyphs" stroke="#2b2b2b" stroke-width="0.2">75</text>
<line x1="242.3" y1="436.2" x2="244.9" y2="436.2" stroke="#1e1e1e" stroke-width="1"/>
<text x="238.5" y="438.65" font-size="6.8" text-anchor="end" textLength="6.9" lengthAdjust="spacingAndGlyphs" stroke="#2b2b2b" stroke-width="0.2">50</text>
<line x1="242.3" y1="449.4" x2="244.9" y2="449.4" stroke="#1e1e1e" stroke-width="1"/>
<text x="238.5" y="451.85" font-size="6.8" text-anchor="end" textLength="6.9" lengthAdjust="spacingAndGlyphs" stroke="#2b2b2b" stroke-width="0.2">25</text>
<line x1="242.3" y1="463.1" x2="244.9" y2="463.1" stroke="#1e1e1e" stroke-width="1"/>
<text x="238.5" y="465.55" font-size="6.8" text-anchor="end" textLength="3.45" lengthAdjust="spacingAndGlyphs" stroke="#2b2b2b" stroke-width="0.2">0</text>
<line x1="254.4" y1="463.1" x2="254.4" y2="465.9" stroke="#1e1e1e" stroke-width="1"/>
<text x="256.6" y="473.7" font-size="6.9" text-anchor="end" textLength="15.5" lengthAdjust="spacingAndGlyphs" transform="rotate(-45 256.6 473.7)" stroke="#2b2b2b" stroke-width="0.26">Naive</text>
<line x1="269" y1="463.1" x2="269" y2="465.9" stroke="#1e1e1e" stroke-width="1"/>
<text x="271.2" y="473.7" font-size="6.9" text-anchor="end" textLength="8.7" lengthAdjust="spacingAndGlyphs" transform="rotate(-45 271.2 473.7)" stroke="#2b2b2b" stroke-width="0.26">Veh</text>
<line x1="283.5" y1="463.1" x2="283.5" y2="465.9" stroke="#1e1e1e" stroke-width="1"/>
<text x="285.7" y="473.7" font-size="6.9" text-anchor="end" textLength="17.2" lengthAdjust="spacingAndGlyphs" transform="rotate(-45 285.7 473.7)" stroke="#2b2b2b" stroke-width="0.26">STAT3i</text>
<line x1="297.7" y1="463.1" x2="297.7" y2="465.9" stroke="#1e1e1e" stroke-width="1"/>
<text x="299.9" y="473.7" font-size="6.9" text-anchor="end" textLength="17.2" lengthAdjust="spacingAndGlyphs" transform="rotate(-45 299.9 473.7)" stroke="#2b2b2b" stroke-width="0.26">STAT5i</text>
<text x="276.6" y="400" font-size="8.6" text-anchor="middle" fill="#1e1e1e" textLength="19.4" lengthAdjust="spacingAndGlyphs" stroke="#1e1e1e" stroke-width="0.26">IFN-γ</text>
<text x="220" y="434" font-size="8.8" text-anchor="middle" textLength="18" lengthAdjust="spacingAndGlyphs" transform="rotate(-90 220 434)" stroke="#2b2b2b" stroke-width="0.26" dominant-baseline="central">pg/mL</text>
<line x1="258.1" y1="415" x2="269.4" y2="415" stroke="#8a8a8a" stroke-width="1.1"/>
<circle cx="262.35" cy="411.9" r="0.95" fill="#3a3a3a"/>
<circle cx="265.25" cy="411.9" r="0.95" fill="#3a3a3a"/>
<line x1="273.1" y1="415" x2="284" y2="415" stroke="#8a8a8a" stroke-width="1.1"/>
<circle cx="278.5" cy="411.9" r="0.95" fill="#3a3a3a"/>
<line x1="273.1" y1="422.5" x2="296.5" y2="422.5" stroke="#8a8a8a" stroke-width="1.1"/>
<circle cx="284.8" cy="419.4" r="0.95" fill="#3a3a3a"/>
<line x1="266" y1="490.4" x2="301.5" y2="490.4" stroke="#333" stroke-width="1.3"/>
<text x="283.75" y="500.6" font-size="8.2" text-anchor="middle" textLength="12.3" lengthAdjust="spacingAndGlyphs" stroke="#2b2b2b" stroke-width="0.26">CpG</text>
<rect x="250.05" y="462.6" width="8.7" height="-0.1" fill="#e2e2e2" stroke="#cfcfcf" stroke-width="0.6"/>
<rect x="264.65" y="443.1" width="8.7" height="19.4" fill="#ea8a80" stroke="#dc6e64" stroke-width="0.6"/>
<rect x="279.15" y="461.8" width="8.7" height="0.7" fill="#8497c3" stroke="#6f83b2" stroke-width="0.6"/>
<rect x="293.35" y="461.8" width="8.7" height="0.7" fill="#a9d68f" stroke="#93c579" stroke-width="0.6"/>
<circle cx="250.65" cy="462.3" r="1.3" fill="#ffffff" stroke="#262626" stroke-width="0.9"/>
<circle cx="253.15" cy="462.3" r="1.3" fill="#ffffff" stroke="#262626" stroke-width="0.9"/>
<circle cx="255.65" cy="462.3" r="1.3" fill="#ffffff" stroke="#262626" stroke-width="0.9"/>
<circle cx="258.15" cy="462.3" r="1.3" fill="#ffffff" stroke="#262626" stroke-width="0.9"/>
<line x1="269" y1="427.5" x2="269" y2="443.1" stroke="#555" stroke-width="0.8"/>
<line x1="266.7" y1="427.5" x2="271.3" y2="427.5" stroke="#555" stroke-width="0.8"/>
<line x1="269" y1="443.1" x2="269" y2="458.5" stroke="#555" stroke-width="0.8"/>
<line x1="266.7" y1="458.5" x2="271.3" y2="458.5" stroke="#555" stroke-width="0.8"/>
<polygon points="269,426.07 267.5,428.82 270.5,428.82" fill="#4e0c18" stroke="#4e0c18" stroke-width="0.5"/>
<circle cx="269" cy="434" r="1.25" fill="#4e0c18" stroke="#4e0c18" stroke-width="0.55"/>
<circle cx="269" cy="451.2" r="1.25" fill="#4e0c18" stroke="#4e0c18" stroke-width="0.55"/>
<circle cx="269" cy="458.7" r="1.25" fill="#4e0c18" stroke="#4e0c18" stroke-width="0.55"/>
<circle cx="279.75" cy="461.6" r="1.25" fill="#16213c" stroke="#16213c" stroke-width="0.55"/>
<circle cx="282.25" cy="461.6" r="1.25" fill="#16213c" stroke="#16213c" stroke-width="0.55"/>
<circle cx="284.75" cy="461.6" r="1.25" fill="#16213c" stroke="#16213c" stroke-width="0.55"/>
<circle cx="287.25" cy="461.6" r="1.25" fill="#16213c" stroke="#16213c" stroke-width="0.55"/>
<circle cx="293.95" cy="461.6" r="1.25" fill="#2a5a24" stroke="#2a5a24" stroke-width="0.55"/>
<circle cx="296.45" cy="461.6" r="1.25" fill="#2a5a24" stroke="#2a5a24" stroke-width="0.55"/>
<circle cx="298.95" cy="461.6" r="1.25" fill="#2a5a24" stroke="#2a5a24" stroke-width="0.55"/>
<circle cx="301.45" cy="461.6" r="1.25" fill="#2a5a24" stroke="#2a5a24" stroke-width="0.55"/>
<line x1="348.3" y1="408.4" x2="348.3" y2="463.8" stroke="#1e1e1e" stroke-width="1.5"/>
<line x1="345.7" y1="463.1" x2="408.6" y2="463.1" stroke="#1e1e1e" stroke-width="1.5"/>
<line x1="345.7" y1="409" x2="348.3" y2="409" stroke="#1e1e1e" stroke-width="1"/>
<text x="341.9" y="411.45" font-size="6.8" text-anchor="end" textLength="13.8" lengthAdjust="spacingAndGlyphs" stroke="#2b2b2b" stroke-width="0.2">2000</text>
<line x1="345.7" y1="422.5" x2="348.3" y2="422.5" stroke="#1e1e1e" stroke-width="1"/>
<text x="341.9" y="424.95" font-size="6.8" text-anchor="end" textLength="13.8" lengthAdjust="spacingAndGlyphs" stroke="#2b2b2b" stroke-width="0.2">1500</text>
<line x1="345.7" y1="436.2" x2="348.3" y2="436.2" stroke="#1e1e1e" stroke-width="1"/>
<text x="341.9" y="438.65" font-size="6.8" text-anchor="end" textLength="13.8" lengthAdjust="spacingAndGlyphs" stroke="#2b2b2b" stroke-width="0.2">1000</text>
<line x1="345.7" y1="449.5" x2="348.3" y2="449.5" stroke="#1e1e1e" stroke-width="1"/>
<text x="341.9" y="451.95" font-size="6.8" text-anchor="end" textLength="10.35" lengthAdjust="spacingAndGlyphs" stroke="#2b2b2b" stroke-width="0.2">500</text>
<line x1="345.7" y1="463.1" x2="348.3" y2="463.1" stroke="#1e1e1e" stroke-width="1"/>
<text x="341.9" y="465.55" font-size="6.8" text-anchor="end" textLength="3.45" lengthAdjust="spacingAndGlyphs" stroke="#2b2b2b" stroke-width="0.2">0</text>
<line x1="358.1" y1="463.1" x2="358.1" y2="465.9" stroke="#1e1e1e" stroke-width="1"/>
<text x="360.3" y="473.7" font-size="6.9" text-anchor="end" textLength="15.5" lengthAdjust="spacingAndGlyphs" transform="rotate(-45 360.3 473.7)" stroke="#2b2b2b" stroke-width="0.26">Naive</text>
<line x1="372.7" y1="463.1" x2="372.7" y2="465.9" stroke="#1e1e1e" stroke-width="1"/>
<text x="374.9" y="473.7" font-size="6.9" text-anchor="end" textLength="8.7" lengthAdjust="spacingAndGlyphs" transform="rotate(-45 374.9 473.7)" stroke="#2b2b2b" stroke-width="0.26">Veh</text>
<line x1="387.2" y1="463.1" x2="387.2" y2="465.9" stroke="#1e1e1e" stroke-width="1"/>
<text x="389.4" y="473.7" font-size="6.9" text-anchor="end" textLength="17.2" lengthAdjust="spacingAndGlyphs" transform="rotate(-45 389.4 473.7)" stroke="#2b2b2b" stroke-width="0.26">STAT3i</text>
<line x1="401.3" y1="463.1" x2="401.3" y2="465.9" stroke="#1e1e1e" stroke-width="1"/>
<text x="403.5" y="473.7" font-size="6.9" text-anchor="end" textLength="17.2" lengthAdjust="spacingAndGlyphs" transform="rotate(-45 403.5 473.7)" stroke="#2b2b2b" stroke-width="0.26">STAT5i</text>
<text x="379.9" y="400" font-size="8.6" text-anchor="middle" fill="#1e1e1e" textLength="25.3" lengthAdjust="spacingAndGlyphs" stroke="#1e1e1e" stroke-width="0.26">CXCL9</text>
<text x="320.2" y="434" font-size="8.8" text-anchor="middle" textLength="18" lengthAdjust="spacingAndGlyphs" transform="rotate(-90 320.2 434)" stroke="#2b2b2b" stroke-width="0.26" dominant-baseline="central">pg/mL</text>
<line x1="361.2" y1="410.2" x2="372.7" y2="410.2" stroke="#8a8a8a" stroke-width="1.1"/>
<circle cx="364.3" cy="407.2" r="0.95" fill="#3a3a3a"/>
<circle cx="367.2" cy="407.2" r="0.95" fill="#3a3a3a"/>
<circle cx="370.1" cy="407.2" r="0.95" fill="#3a3a3a"/>
<line x1="376.5" y1="410.2" x2="387.7" y2="410.2" stroke="#8a8a8a" stroke-width="1.1"/>
<circle cx="380.75" cy="407.2" r="0.95" fill="#3a3a3a"/>
<circle cx="383.65" cy="407.2" r="0.95" fill="#3a3a3a"/>
<line x1="376.5" y1="418.1" x2="400.2" y2="418.1" stroke="#8a8a8a" stroke-width="1.1"/>
<circle cx="385.6" cy="415" r="0.95" fill="#3a3a3a"/>
<circle cx="388.5" cy="415" r="0.95" fill="#3a3a3a"/>
<circle cx="391.4" cy="415" r="0.95" fill="#3a3a3a"/>
<line x1="369.6" y1="490.4" x2="404.6" y2="490.4" stroke="#333" stroke-width="1.3"/>
<text x="387.1" y="500.6" font-size="8.2" text-anchor="middle" textLength="12.3" lengthAdjust="spacingAndGlyphs" stroke="#2b2b2b" stroke-width="0.26">CpG</text>
<rect x="353.75" y="460" width="8.7" height="2.5" fill="#e2e2e2" stroke="#cfcfcf" stroke-width="0.6"/>
<rect x="368.35" y="434" width="8.7" height="28.5" fill="#ea8a80" stroke="#dc6e64" stroke-width="0.6"/>
<rect x="382.85" y="454" width="8.7" height="8.5" fill="#8497c3" stroke="#6f83b2" stroke-width="0.6"/>
<rect x="396.95" y="458.5" width="8.7" height="4" fill="#a9d68f" stroke="#93c579" stroke-width="0.6"/>
<circle cx="354.5" cy="461.6" r="1.3" fill="#ffffff" stroke="#262626" stroke-width="0.9"/>
<circle cx="356.9" cy="460.3" r="1.3" fill="#ffffff" stroke="#262626" stroke-width="0.9"/>
<circle cx="359.3" cy="459.8" r="1.3" fill="#ffffff" stroke="#262626" stroke-width="0.9"/>
<circle cx="361.7" cy="461.2" r="1.3" fill="#ffffff" stroke="#262626" stroke-width="0.9"/>
<line x1="372.7" y1="420.6" x2="372.7" y2="434" stroke="#3a0d14" stroke-width="0.8"/>
<line x1="370.4" y1="420.6" x2="375" y2="420.6" stroke="#3a0d14" stroke-width="0.8"/>
<line x1="372.7" y1="434" x2="372.7" y2="446.5" stroke="#3a0d14" stroke-width="0.8"/>
<line x1="370.4" y1="446.5" x2="375" y2="446.5" stroke="#3a0d14" stroke-width="0.8"/>
<circle cx="372.7" cy="416.6" r="1.25" fill="#4e0c18" stroke="#4e0c18" stroke-width="0.55"/>
<circle cx="372.7" cy="431.5" r="1.25" fill="#4e0c18" stroke="#4e0c18" stroke-width="0.55"/>
<circle cx="369" cy="443.5" r="1.25" fill="#4e0c18" stroke="#4e0c18" stroke-width="0.55"/>
<circle cx="376.2" cy="443.5" r="1.25" fill="#4e0c18" stroke="#4e0c18" stroke-width="0.55"/>
<line x1="387.2" y1="454" x2="387.2" y2="459.5" stroke="#16213c" stroke-width="0.8"/>
<line x1="384.9" y1="459.5" x2="389.5" y2="459.5" stroke="#16213c" stroke-width="0.8"/>
<circle cx="383.5" cy="454" r="1.25" fill="#16213c" stroke="#16213c" stroke-width="0.55"/>
<polygon points="387.2,461.62 385.7,458.88 388.7,458.88" fill="#16213c" stroke="#16213c" stroke-width="0.5"/>
<circle cx="390.9" cy="455" r="1.25" fill="#16213c" stroke="#16213c" stroke-width="0.55"/>
<rect x="385.95" y="455.35" width="2.5" height="2.5" fill="#16213c" stroke="#16213c" stroke-width="0.5"/>
<polygon points="401.3,452.98 399.8,455.73 402.8,455.73" fill="#2a5a24" stroke="#2a5a24" stroke-width="0.5"/>
<circle cx="397.8" cy="460" r="1.25" fill="#2a5a24" stroke="#2a5a24" stroke-width="0.55"/>
<circle cx="401.3" cy="459" r="1.25" fill="#2a5a24" stroke="#2a5a24" stroke-width="0.55"/>
<circle cx="404.8" cy="460" r="1.25" fill="#2a5a24" stroke="#2a5a24" stroke-width="0.55"/>
<line x1="450.2" y1="408.4" x2="450.2" y2="463.8" stroke="#1e1e1e" stroke-width="1.5"/>
<line x1="447.6" y1="463.1" x2="513.1" y2="463.1" stroke="#1e1e1e" stroke-width="1.5"/>
<line x1="447.6" y1="409" x2="450.2" y2="409" stroke="#1e1e1e" stroke-width="1"/>
<text x="444.4" y="411.45" font-size="6.8" text-anchor="end" textLength="8.8" lengthAdjust="spacingAndGlyphs" stroke="#2b2b2b" stroke-width="0.2">1.5</text>
<line x1="447.6" y1="426.9" x2="450.2" y2="426.9" stroke="#1e1e1e" stroke-width="1"/>
<text x="444.4" y="429.35" font-size="6.8" text-anchor="end" textLength="8.8" lengthAdjust="spacingAndGlyphs" stroke="#2b2b2b" stroke-width="0.2">1.0</text>
<line x1="447.6" y1="445" x2="450.2" y2="445" stroke="#1e1e1e" stroke-width="1"/>
<text x="444.4" y="447.45" font-size="6.8" text-anchor="end" textLength="8.8" lengthAdjust="spacingAndGlyphs" stroke="#2b2b2b" stroke-width="0.2">0.5</text>
<line x1="447.6" y1="463.1" x2="450.2" y2="463.1" stroke="#1e1e1e" stroke-width="1"/>
<text x="444.4" y="465.55" font-size="6.8" text-anchor="end" textLength="8.8" lengthAdjust="spacingAndGlyphs" stroke="#2b2b2b" stroke-width="0.2">0.0</text>
<line x1="459.4" y1="463.1" x2="459.4" y2="465.9" stroke="#1e1e1e" stroke-width="1"/>
<text x="461.6" y="473.7" font-size="6.9" text-anchor="end" textLength="15.5" lengthAdjust="spacingAndGlyphs" transform="rotate(-45 461.6 473.7)" stroke="#2b2b2b" stroke-width="0.26">Naive</text>
<line x1="474" y1="463.1" x2="474" y2="465.9" stroke="#1e1e1e" stroke-width="1"/>
<text x="476.2" y="473.7" font-size="6.9" text-anchor="end" textLength="8.7" lengthAdjust="spacingAndGlyphs" transform="rotate(-45 476.2 473.7)" stroke="#2b2b2b" stroke-width="0.26">Veh</text>
<line x1="488.7" y1="463.1" x2="488.7" y2="465.9" stroke="#1e1e1e" stroke-width="1"/>
<text x="490.9" y="473.7" font-size="6.9" text-anchor="end" textLength="17.2" lengthAdjust="spacingAndGlyphs" transform="rotate(-45 490.9 473.7)" stroke="#2b2b2b" stroke-width="0.26">STAT3i</text>
<line x1="503.2" y1="463.1" x2="503.2" y2="465.9" stroke="#1e1e1e" stroke-width="1"/>
<text x="505.4" y="473.7" font-size="6.9" text-anchor="end" textLength="17.2" lengthAdjust="spacingAndGlyphs" transform="rotate(-45 505.4 473.7)" stroke="#2b2b2b" stroke-width="0.26">STAT5i</text>
<text x="481.6" y="400.6" font-size="8.6" text-anchor="middle" fill="#1e1e1e" textLength="21.3" lengthAdjust="spacingAndGlyphs" stroke="#1e1e1e" stroke-width="0.26">CitH3</text>
<text x="428" y="435" font-size="8.7" text-anchor="middle" textLength="64" lengthAdjust="spacingAndGlyphs" transform="rotate(-90 428 435)" stroke="#2b2b2b" stroke-width="0.26" dominant-baseline="central">Relative band density</text>
<line x1="463.7" y1="411" x2="474.7" y2="411" stroke="#8a8a8a" stroke-width="1.1"/>
<circle cx="469" cy="407.2" r="0.95" fill="#3a3a3a"/>
<line x1="478.5" y1="411" x2="489" y2="411" stroke="#8a8a8a" stroke-width="1.1"/>
<circle cx="484" cy="407.2" r="0.95" fill="#3a3a3a"/>
<line x1="478.5" y1="416.2" x2="502.2" y2="416.2" stroke="#8a8a8a" stroke-width="1.1"/>
<circle cx="488.55" cy="413.1" r="0.95" fill="#3a3a3a"/>
<circle cx="491.45" cy="413.1" r="0.95" fill="#3a3a3a"/>
<line x1="470.6" y1="490.6" x2="506.5" y2="490.6" stroke="#333" stroke-width="1.3"/>
<text x="488.55" y="500.3" font-size="8.2" text-anchor="middle" textLength="12.3" lengthAdjust="spacingAndGlyphs" stroke="#2b2b2b" stroke-width="0.26">CpG</text>
<rect x="455.05" y="441.2" width="8.7" height="21.3" fill="#e2e2e2" stroke="#cfcfcf" stroke-width="0.6"/>
<rect x="469.65" y="425.2" width="8.7" height="37.3" fill="#ea8a80" stroke="#dc6e64" stroke-width="0.6"/>
<rect x="484.35" y="437.2" width="8.7" height="25.3" fill="#8497c3" stroke="#6f83b2" stroke-width="0.6"/>
<rect x="498.85" y="445" width="8.7" height="17.5" fill="#a9d68f" stroke="#93c579" stroke-width="0.6"/>
<circle cx="455.9" cy="440.5" r="1.3" fill="#ffffff" stroke="#262626" stroke-width="0.9"/>
<circle cx="459.4" cy="438.6" r="1.3" fill="#ffffff" stroke="#262626" stroke-width="0.9"/>
<circle cx="462.4" cy="440" r="1.3" fill="#ffffff" stroke="#262626" stroke-width="0.9"/>
<line x1="474" y1="420" x2="474" y2="425.2" stroke="#5a1520" stroke-width="0.8"/>
<line x1="471.7" y1="420" x2="476.3" y2="420" stroke="#5a1520" stroke-width="0.8"/>
<line x1="474" y1="425.2" x2="474" y2="431" stroke="#5a1520" stroke-width="0.8"/>
<line x1="471.7" y1="431" x2="476.3" y2="431" stroke="#5a1520" stroke-width="0.8"/>
<polygon points="474,418.45 475.38,420.2 474,421.95 472.62,420.2" fill="#4e0c18" stroke="#4e0c18" stroke-width="0.5"/>
<polygon points="474,424.98 472.5,427.73 475.5,427.73" fill="#4e0c18" stroke="#4e0c18" stroke-width="0.5"/>
<polygon points="474,428.38 472.5,431.12 475.5,431.12" fill="#4e0c18" stroke="#4e0c18" stroke-width="0.5"/>
<line x1="488.7" y1="430" x2="488.7" y2="437.2" stroke="#1c2a4a" stroke-width="0.8"/>
<line x1="486.4" y1="430" x2="491" y2="430" stroke="#1c2a4a" stroke-width="0.8"/>
<line x1="488.7" y1="437.2" x2="488.7" y2="444" stroke="#1c2a4a" stroke-width="0.8"/>
<line x1="486.4" y1="444" x2="491" y2="444" stroke="#1c2a4a" stroke-width="0.8"/>
<polygon points="488.7,428.25 490.07,430 488.7,431.75 487.32,430" fill="#16213c" stroke="#16213c" stroke-width="0.5"/>
<polygon points="488.7,436.98 487.2,439.73 490.2,439.73" fill="#16213c" stroke="#16213c" stroke-width="0.5"/>
<polygon points="488.7,439.38 487.2,442.12 490.2,442.12" fill="#16213c" stroke="#16213c" stroke-width="0.5"/>
<circle cx="499.7" cy="444" r="1.25" fill="#2a5a24" stroke="#2a5a24" stroke-width="0.55"/>
<circle cx="503.2" cy="442.6" r="1.25" fill="#2a5a24" stroke="#2a5a24" stroke-width="0.55"/>
<circle cx="506.7" cy="443.5" r="1.25" fill="#2a5a24" stroke="#2a5a24" stroke-width="0.55"/>
<line x1="32.5" y1="242.9" x2="32.5" y2="296.3" stroke="#1e1e1e" stroke-width="1.5"/>
<line x1="29.9" y1="295.6" x2="93" y2="295.6" stroke="#1e1e1e" stroke-width="1.5"/>
<line x1="29.9" y1="243.5" x2="32.5" y2="243.5" stroke="#1e1e1e" stroke-width="1"/>
<text x="26.8" y="245.95" font-size="6.8" text-anchor="end" textLength="6.9" lengthAdjust="spacingAndGlyphs" stroke="#2b2b2b" stroke-width="0.2">12</text>
<line x1="29.9" y1="256.5" x2="32.5" y2="256.5" stroke="#1e1e1e" stroke-width="1"/>
<text x="26.8" y="258.95" font-size="6.8" text-anchor="end" textLength="3.45" lengthAdjust="spacingAndGlyphs" stroke="#2b2b2b" stroke-width="0.2">9</text>
<line x1="29.9" y1="269.5" x2="32.5" y2="269.5" stroke="#1e1e1e" stroke-width="1"/>
<text x="26.8" y="271.95" font-size="6.8" text-anchor="end" textLength="3.45" lengthAdjust="spacingAndGlyphs" stroke="#2b2b2b" stroke-width="0.2">6</text>
<line x1="29.9" y1="282.5" x2="32.5" y2="282.5" stroke="#1e1e1e" stroke-width="1"/>
<text x="26.8" y="284.95" font-size="6.8" text-anchor="end" textLength="3.45" lengthAdjust="spacingAndGlyphs" stroke="#2b2b2b" stroke-width="0.2">3</text>
<line x1="29.9" y1="295.6" x2="32.5" y2="295.6" stroke="#1e1e1e" stroke-width="1"/>
<text x="26.8" y="298.05" font-size="6.8" text-anchor="end" textLength="3.45" lengthAdjust="spacingAndGlyphs" stroke="#2b2b2b" stroke-width="0.2">0</text>
<line x1="41.4" y1="295.6" x2="41.4" y2="298.4" stroke="#1e1e1e" stroke-width="1"/>
<text x="43.6" y="306.2" font-size="6.9" text-anchor="end" textLength="15.5" lengthAdjust="spacingAndGlyphs" transform="rotate(-45 43.6 306.2)" stroke="#2b2b2b" stroke-width="0.26">Naive</text>
<line x1="55.3" y1="295.6" x2="55.3" y2="298.4" stroke="#1e1e1e" stroke-width="1"/>
<text x="57.5" y="306.2" font-size="6.9" text-anchor="end" textLength="8.7" lengthAdjust="spacingAndGlyphs" transform="rotate(-45 57.5 306.2)" stroke="#2b2b2b" stroke-width="0.26">Veh</text>
<line x1="69.4" y1="295.6" x2="69.4" y2="298.4" stroke="#1e1e1e" stroke-width="1"/>
<text x="71.6" y="306.2" font-size="6.9" text-anchor="end" textLength="17.2" lengthAdjust="spacingAndGlyphs" transform="rotate(-45 71.6 306.2)" stroke="#2b2b2b" stroke-width="0.26">STAT3i</text>
<line x1="83.5" y1="295.6" x2="83.5" y2="298.4" stroke="#1e1e1e" stroke-width="1"/>
<text x="85.7" y="306.2" font-size="6.9" text-anchor="end" textLength="17.2" lengthAdjust="spacingAndGlyphs" transform="rotate(-45 85.7 306.2)" stroke="#2b2b2b" stroke-width="0.26">STAT5i</text>
<text x="62.5" y="234.5" font-size="8.6" text-anchor="middle" fill="#1e1e1e" textLength="17.5" lengthAdjust="spacingAndGlyphs" stroke="#1e1e1e" stroke-width="0.26">Liver</text>
<text x="11.5" y="265" font-size="8.9" text-anchor="middle" textLength="53" lengthAdjust="spacingAndGlyphs" transform="rotate(-90 11.5 265)" stroke="#2b2b2b" stroke-width="0.26" dominant-baseline="central">Liver/weight (%)</text>
<line x1="41.9" y1="245" x2="55" y2="245" stroke="#8a8a8a" stroke-width="1.1"/>
<circle cx="48.7" cy="241.9" r="0.95" fill="#3a3a3a"/>
<line x1="56.2" y1="247.5" x2="68.7" y2="247.5" stroke="#8a8a8a" stroke-width="1.1"/>
<circle cx="61.05" cy="244" r="0.95" fill="#3a3a3a"/>
<circle cx="63.95" cy="244" r="0.95" fill="#3a3a3a"/>
<line x1="56.2" y1="253" x2="83.7" y2="253" stroke="#8a8a8a" stroke-width="1.1"/>
<circle cx="68.55" cy="250" r="0.95" fill="#3a3a3a"/>
<circle cx="71.45" cy="250" r="0.95" fill="#3a3a3a"/>
<line x1="44.9" y1="323.1" x2="84.5" y2="323.1" stroke="#333" stroke-width="1.3"/>
<text x="64.7" y="333.5" font-size="8.2" text-anchor="middle" textLength="12.3" lengthAdjust="spacingAndGlyphs" stroke="#2b2b2b" stroke-width="0.26">CpG</text>
<line x1="36.8" y1="265.6" x2="46" y2="265.6" stroke="#555" stroke-width="0.8"/>
<circle cx="37.4" cy="266.6" r="1.3" fill="#ffffff" stroke="#262626" stroke-width="0.9"/>
<rect x="38.6" y="264.3" width="2.6" height="2.6" fill="#ffffff" stroke="#262626" stroke-width="0.5"/>
<circle cx="42.9" cy="265" r="1.3" fill="#ffffff" stroke="#262626" stroke-width="0.9"/>
<circle cx="45.4" cy="264.2" r="1.3" fill="#ffffff" stroke="#262626" stroke-width="0.9"/>
<circle cx="41.4" cy="266.9" r="1.3" fill="#ffffff" stroke="#262626" stroke-width="0.9"/>
<line x1="50.7" y1="258" x2="59.9" y2="258" stroke="#4e0c18" stroke-width="0.8"/>
<circle cx="52.3" cy="258.9" r="1.25" fill="#4e0c18" stroke="#4e0c18" stroke-width="0.55"/>
<polygon points="54.8,254.18 53.3,256.93 56.3,256.93" fill="#4e0c18" stroke="#4e0c18" stroke-width="0.5"/>
<circle cx="57.3" cy="258" r="1.25" fill="#4e0c18" stroke="#4e0c18" stroke-width="0.55"/>
<circle cx="59.8" cy="258.6" r="1.25" fill="#4e0c18" stroke="#4e0c18" stroke-width="0.55"/>
<circle cx="56.3" cy="257.2" r="1.25" fill="#4e0c18" stroke="#4e0c18" stroke-width="0.55"/>
<line x1="69.4" y1="263.6" x2="69.4" y2="266.4" stroke="#16213c" stroke-width="0.8"/>
<line x1="67.1" y1="263.6" x2="71.7" y2="263.6" stroke="#16213c" stroke-width="0.8"/>
<line x1="69.4" y1="266.4" x2="69.4" y2="269" stroke="#16213c" stroke-width="0.8"/>
<line x1="67.1" y1="269" x2="71.7" y2="269" stroke="#16213c" stroke-width="0.8"/>
<line x1="64.8" y1="266.4" x2="74" y2="266.4" stroke="#16213c" stroke-width="0.8"/>
<circle cx="65.9" cy="269.2" r="1.25" fill="#16213c" stroke="#16213c" stroke-width="0.55"/>
<polygon points="69.4,266.23 67.9,263.48 70.9,263.48" fill="#16213c" stroke="#16213c" stroke-width="0.5"/>
<circle cx="72.9" cy="262.8" r="1.25" fill="#16213c" stroke="#16213c" stroke-width="0.55"/>
<circle cx="72.9" cy="266.6" r="1.25" fill="#16213c" stroke="#16213c" stroke-width="0.55"/>
<circle cx="68.4" cy="266.4" r="1.25" fill="#16213c" stroke="#16213c" stroke-width="0.55"/>
<line x1="83.5" y1="262.5" x2="83.5" y2="265.8" stroke="#2a5a24" stroke-width="0.8"/>
<line x1="81.2" y1="262.5" x2="85.8" y2="262.5" stroke="#2a5a24" stroke-width="0.8"/>
<line x1="83.5" y1="265.8" x2="83.5" y2="269.4" stroke="#2a5a24" stroke-width="0.8"/>
<line x1="81.2" y1="269.4" x2="85.8" y2="269.4" stroke="#2a5a24" stroke-width="0.8"/>
<line x1="78.9" y1="265.8" x2="88.1" y2="265.8" stroke="#2a5a24" stroke-width="0.8"/>
<polygon points="83.5,264.43 82,261.68 85,261.68" fill="#2a5a24" stroke="#2a5a24" stroke-width="0.5"/>
<circle cx="83.5" cy="265.5" r="1.25" fill="#2a5a24" stroke="#2a5a24" stroke-width="0.55"/>
<polygon points="83.5,272.62 82,269.88 85,269.88" fill="#2a5a24" stroke="#2a5a24" stroke-width="0.5"/>
<circle cx="86" cy="263.2" r="1.25" fill="#2a5a24" stroke="#2a5a24" stroke-width="0.55"/>
<line x1="133.1" y1="242.9" x2="133.1" y2="296.3" stroke="#1e1e1e" stroke-width="1.5"/>
<line x1="130.5" y1="295.6" x2="194.5" y2="295.6" stroke="#1e1e1e" stroke-width="1.5"/>
<line x1="130.5" y1="243.5" x2="133.1" y2="243.5" stroke="#1e1e1e" stroke-width="1"/>
<text x="127.3" y="245.95" font-size="6.8" text-anchor="end" textLength="12.25" lengthAdjust="spacingAndGlyphs" stroke="#2b2b2b" stroke-width="0.2">3.00</text>
<line x1="130.5" y1="256.3" x2="133.1" y2="256.3" stroke="#1e1e1e" stroke-width="1"/>
<text x="127.3" y="258.75" font-size="6.8" text-anchor="end" textLength="12.25" lengthAdjust="spacingAndGlyphs" stroke="#2b2b2b" stroke-width="0.2">2.25</text>
<line x1="130.5" y1="269" x2="133.1" y2="269" stroke="#1e1e1e" stroke-width="1"/>
<text x="127.3" y="271.45" font-size="6.8" text-anchor="end" textLength="12.25" lengthAdjust="spacingAndGlyphs" stroke="#2b2b2b" stroke-width="0.2">1.50</text>
<line x1="130.5" y1="282.5" x2="133.1" y2="282.5" stroke="#1e1e1e" stroke-width="1"/>
<text x="127.3" y="284.95" font-size="6.8" text-anchor="end" textLength="12.25" lengthAdjust="spacingAndGlyphs" stroke="#2b2b2b" stroke-width="0.2">0.75</text>
<line x1="130.5" y1="295.6" x2="133.1" y2="295.6" stroke="#1e1e1e" stroke-width="1"/>
<text x="127.3" y="298.05" font-size="6.8" text-anchor="end" textLength="12.25" lengthAdjust="spacingAndGlyphs" stroke="#2b2b2b" stroke-width="0.2">0.00</text>
<line x1="142.4" y1="295.6" x2="142.4" y2="298.4" stroke="#1e1e1e" stroke-width="1"/>
<text x="144.6" y="306.2" font-size="6.9" text-anchor="end" textLength="15.5" lengthAdjust="spacingAndGlyphs" transform="rotate(-45 144.6 306.2)" stroke="#2b2b2b" stroke-width="0.26">Naive</text>
<line x1="156.5" y1="295.6" x2="156.5" y2="298.4" stroke="#1e1e1e" stroke-width="1"/>
<text x="158.7" y="306.2" font-size="6.9" text-anchor="end" textLength="8.7" lengthAdjust="spacingAndGlyphs" transform="rotate(-45 158.7 306.2)" stroke="#2b2b2b" stroke-width="0.26">Veh</text>
<line x1="170.4" y1="295.6" x2="170.4" y2="298.4" stroke="#1e1e1e" stroke-width="1"/>
<text x="172.6" y="306.2" font-size="6.9" text-anchor="end" textLength="17.2" lengthAdjust="spacingAndGlyphs" transform="rotate(-45 172.6 306.2)" stroke="#2b2b2b" stroke-width="0.26">STAT3i</text>
<line x1="184.4" y1="295.6" x2="184.4" y2="298.4" stroke="#1e1e1e" stroke-width="1"/>
<text x="186.6" y="306.2" font-size="6.9" text-anchor="end" textLength="17.2" lengthAdjust="spacingAndGlyphs" transform="rotate(-45 186.6 306.2)" stroke="#2b2b2b" stroke-width="0.26">STAT5i</text>
<text x="163.9" y="234.7" font-size="8.6" text-anchor="middle" fill="#1e1e1e" textLength="26.6" lengthAdjust="spacingAndGlyphs" stroke="#1e1e1e" stroke-width="0.26">Spleen</text>
<text x="107.6" y="267" font-size="8.9" text-anchor="middle" textLength="55" lengthAdjust="spacingAndGlyphs" transform="rotate(-90 107.6 267)" stroke="#2b2b2b" stroke-width="0.26" dominant-baseline="central">Spleen/weight (%)</text>
<line x1="143.7" y1="244.7" x2="156" y2="244.7" stroke="#8a8a8a" stroke-width="1.1"/>
<circle cx="145.5" cy="241.5" r="0.95" fill="#3a3a3a"/>
<circle cx="148.4" cy="241.5" r="0.95" fill="#3a3a3a"/>
<circle cx="151.3" cy="241.5" r="0.95" fill="#3a3a3a"/>
<circle cx="154.2" cy="241.5" r="0.95" fill="#3a3a3a"/>
<line x1="157.7" y1="248.5" x2="169.7" y2="248.5" stroke="#8a8a8a" stroke-width="1.1"/>
<circle cx="159.35" cy="245.2" r="0.95" fill="#3a3a3a"/>
<circle cx="162.25" cy="245.2" r="0.95" fill="#3a3a3a"/>
<circle cx="165.15" cy="245.2" r="0.95" fill="#3a3a3a"/>
<circle cx="168.05" cy="245.2" r="0.95" fill="#3a3a3a"/>
<line x1="157.7" y1="254.6" x2="185" y2="254.6" stroke="#8a8a8a" stroke-width="1.1"/>
<circle cx="166.65" cy="251.5" r="0.95" fill="#3a3a3a"/>
<circle cx="169.55" cy="251.5" r="0.95" fill="#3a3a3a"/>
<circle cx="172.45" cy="251.5" r="0.95" fill="#3a3a3a"/>
<circle cx="175.35" cy="251.5" r="0.95" fill="#3a3a3a"/>
<line x1="146.9" y1="323.4" x2="185.6" y2="323.4" stroke="#333" stroke-width="1.3"/>
<text x="166.25" y="333.3" font-size="8.2" text-anchor="middle" textLength="12.3" lengthAdjust="spacingAndGlyphs" stroke="#2b2b2b" stroke-width="0.26">CpG</text>
<circle cx="138.95" cy="290.4" r="1.3" fill="#ffffff" stroke="#262626" stroke-width="0.9"/>
<circle cx="141.25" cy="290.4" r="1.3" fill="#ffffff" stroke="#262626" stroke-width="0.9"/>
<circle cx="143.55" cy="290.4" r="1.3" fill="#ffffff" stroke="#262626" stroke-width="0.9"/>
<circle cx="145.85" cy="290.4" r="1.3" fill="#ffffff" stroke="#262626" stroke-width="0.9"/>
<line x1="156.5" y1="262.8" x2="156.5" y2="268.7" stroke="#4e0c18" stroke-width="0.8"/>
<line x1="154.2" y1="262.8" x2="158.8" y2="262.8" stroke="#4e0c18" stroke-width="0.8"/>
<line x1="156.5" y1="268.7" x2="156.5" y2="274" stroke="#4e0c18" stroke-width="0.8"/>
<line x1="154.2" y1="274" x2="158.8" y2="274" stroke="#4e0c18" stroke-width="0.8"/>
<line x1="151.9" y1="268.7" x2="161.1" y2="268.7" stroke="#4e0c18" stroke-width="0.8"/>
<polygon points="156.5,260.55 157.88,262.3 156.5,264.05 155.12,262.3" fill="#4e0c18" stroke="#4e0c18" stroke-width="0.5"/>
<circle cx="156.5" cy="266.6" r="1.25" fill="#4e0c18" stroke="#4e0c18" stroke-width="0.55"/>
<polygon points="156.5,267.85 157.88,269.6 156.5,271.35 155.12,269.6" fill="#4e0c18" stroke="#4e0c18" stroke-width="0.5"/>
<polygon points="156.5,276.02 155,273.27 158,273.27" fill="#4e0c18" stroke="#4e0c18" stroke-width="0.5"/>
<line x1="165.8" y1="283.9" x2="175" y2="283.9" stroke="#16213c" stroke-width="0.8"/>
<circle cx="166.9" cy="282.4" r="1.25" fill="#16213c" stroke="#16213c" stroke-width="0.55"/>
<circle cx="166.9" cy="285.2" r="1.25" fill="#16213c" stroke="#16213c" stroke-width="0.55"/>
<rect x="168.15" y="282.45" width="2.5" height="2.5" fill="#16213c" stroke="#16213c" stroke-width="0.5"/>
<circle cx="171.9" cy="284" r="1.25" fill="#16213c" stroke="#16213c" stroke-width="0.55"/>
<circle cx="174.4" cy="284" r="1.25" fill="#16213c" stroke="#16213c" stroke-width="0.55"/>
<line x1="179.8" y1="285.6" x2="189" y2="285.6" stroke="#2a5a24" stroke-width="0.8"/>
<circle cx="180.7" cy="286.7" r="1.25" fill="#2a5a24" stroke="#2a5a24" stroke-width="0.55"/>
<circle cx="183.2" cy="285.6" r="1.25" fill="#2a5a24" stroke="#2a5a24" stroke-width="0.55"/>
<rect x="184.45" y="284.15" width="2.5" height="2.5" fill="#2a5a24" stroke="#2a5a24" stroke-width="0.5"/>
<circle cx="188.2" cy="285.6" r="1.25" fill="#2a5a24" stroke="#2a5a24" stroke-width="0.55"/>
<line x1="34.4" y1="374.6" x2="34.4" y2="430.5" stroke="#1e1e1e" stroke-width="1.5"/>
<line x1="31.8" y1="429.8" x2="97.5" y2="429.8" stroke="#1e1e1e" stroke-width="1.5"/>
<line x1="31.8" y1="375.2" x2="34.4" y2="375.2" stroke="#1e1e1e" stroke-width="1"/>
<text x="28.1" y="377.65" font-size="6.8" text-anchor="end" textLength="8.8" lengthAdjust="spacingAndGlyphs" stroke="#2b2b2b" stroke-width="0.2">0.8</text>
<line x1="31.8" y1="388.7" x2="34.4" y2="388.7" stroke="#1e1e1e" stroke-width="1"/>
<text x="28.1" y="391.15" font-size="6.8" text-anchor="end" textLength="8.8" lengthAdjust="spacingAndGlyphs" stroke="#2b2b2b" stroke-width="0.2">0.6</text>
<line x1="31.8" y1="402.2" x2="34.4" y2="402.2" stroke="#1e1e1e" stroke-width="1"/>
<text x="28.1" y="404.65" font-size="6.8" text-anchor="end" textLength="8.8" lengthAdjust="spacingAndGlyphs" stroke="#2b2b2b" stroke-width="0.2">0.4</text>
<line x1="31.8" y1="416.2" x2="34.4" y2="416.2" stroke="#1e1e1e" stroke-width="1"/>
<text x="28.1" y="418.65" font-size="6.8" text-anchor="end" textLength="8.8" lengthAdjust="spacingAndGlyphs" stroke="#2b2b2b" stroke-width="0.2">0.2</text>
<line x1="31.8" y1="429.8" x2="34.4" y2="429.8" stroke="#1e1e1e" stroke-width="1"/>
<text x="28.1" y="432.25" font-size="6.8" text-anchor="end" textLength="8.8" lengthAdjust="spacingAndGlyphs" stroke="#2b2b2b" stroke-width="0.2">0.0</text>
<line x1="44" y1="429.8" x2="44" y2="432.6" stroke="#1e1e1e" stroke-width="1"/>
<text x="46.2" y="440.4" font-size="6.9" text-anchor="end" textLength="15.5" lengthAdjust="spacingAndGlyphs" transform="rotate(-45 46.2 440.4)" stroke="#2b2b2b" stroke-width="0.26">Naive</text>
<line x1="58.7" y1="429.8" x2="58.7" y2="432.6" stroke="#1e1e1e" stroke-width="1"/>
<text x="60.9" y="440.4" font-size="6.9" text-anchor="end" textLength="8.7" lengthAdjust="spacingAndGlyphs" transform="rotate(-45 60.9 440.4)" stroke="#2b2b2b" stroke-width="0.26">Veh</text>
<line x1="73.5" y1="429.8" x2="73.5" y2="432.6" stroke="#1e1e1e" stroke-width="1"/>
<text x="75.7" y="440.4" font-size="6.9" text-anchor="end" textLength="17.2" lengthAdjust="spacingAndGlyphs" transform="rotate(-45 75.7 440.4)" stroke="#2b2b2b" stroke-width="0.26">STAT3i</text>
<line x1="88" y1="429.8" x2="88" y2="432.6" stroke="#1e1e1e" stroke-width="1"/>
<text x="90.2" y="440.4" font-size="6.9" text-anchor="end" textLength="17.2" lengthAdjust="spacingAndGlyphs" transform="rotate(-45 90.2 440.4)" stroke="#2b2b2b" stroke-width="0.26">STAT5i</text>
<text x="66.6" y="367.5" font-size="9.2" text-anchor="middle" fill="#1e1e1e" font-style="italic" textLength="8.8" lengthAdjust="spacingAndGlyphs" stroke="#1e1e1e" stroke-width="0.26">Il6</text>
<text x="11.3" y="400.2" font-size="8.8" text-anchor="middle" textLength="61" lengthAdjust="spacingAndGlyphs" transform="rotate(-90 11.3 400.2)" stroke="#2b2b2b" stroke-width="0.26" dominant-baseline="central">Relative expression</text>
<line x1="48.1" y1="382.2" x2="58.7" y2="382.2" stroke="#8a8a8a" stroke-width="1.1"/>
<circle cx="49.05" cy="379" r="0.95" fill="#3a3a3a"/>
<circle cx="51.95" cy="379" r="0.95" fill="#3a3a3a"/>
<circle cx="54.85" cy="379" r="0.95" fill="#3a3a3a"/>
<circle cx="57.75" cy="379" r="0.95" fill="#3a3a3a"/>
<line x1="63.1" y1="382.2" x2="74" y2="382.2" stroke="#8a8a8a" stroke-width="1.1"/>
<circle cx="64.2" cy="379" r="0.95" fill="#3a3a3a"/>
<circle cx="67.1" cy="379" r="0.95" fill="#3a3a3a"/>
<circle cx="70" cy="379" r="0.95" fill="#3a3a3a"/>
<circle cx="72.9" cy="379" r="0.95" fill="#3a3a3a"/>
<line x1="62.7" y1="390.2" x2="86.9" y2="390.2" stroke="#8a8a8a" stroke-width="1.1"/>
<circle cx="70.65" cy="386.9" r="0.95" fill="#3a3a3a"/>
<circle cx="73.55" cy="386.9" r="0.95" fill="#3a3a3a"/>
<circle cx="76.45" cy="386.9" r="0.95" fill="#3a3a3a"/>
<circle cx="79.35" cy="386.9" r="0.95" fill="#3a3a3a"/>
<line x1="56.2" y1="457.2" x2="90.6" y2="457.2" stroke="#333" stroke-width="1.3"/>
<text x="73.4" y="467" font-size="8.2" text-anchor="middle" textLength="12.3" lengthAdjust="spacingAndGlyphs" stroke="#2b2b2b" stroke-width="0.26">CpG</text>
<rect x="39.65" y="427.2" width="8.7" height="2" fill="#e2e2e2" stroke="#cfcfcf" stroke-width="0.6"/>
<rect x="54.35" y="404.8" width="8.7" height="24.4" fill="#ea8a80" stroke="#dc6e64" stroke-width="0.6"/>
<rect x="69.15" y="425.8" width="8.7" height="3.4" fill="#8497c3" stroke="#6f83b2" stroke-width="0.6"/>
<rect x="83.65" y="427" width="8.7" height="2.2" fill="#a9d68f" stroke="#93c579" stroke-width="0.6"/>
<circle cx="40.4" cy="428" r="1.3" fill="#ffffff" stroke="#262626" stroke-width="0.9"/>
<circle cx="42.8" cy="427" r="1.3" fill="#ffffff" stroke="#262626" stroke-width="0.9"/>
<circle cx="45.2" cy="426" r="1.3" fill="#ffffff" stroke="#262626" stroke-width="0.9"/>
<circle cx="47.6" cy="427.6" r="1.3" fill="#ffffff" stroke="#262626" stroke-width="0.9"/>
<circle cx="44" cy="425" r="1.3" fill="#ffffff" stroke="#262626" stroke-width="0.9"/>
<line x1="58.7" y1="398.5" x2="58.7" y2="404.8" stroke="#6e1223" stroke-width="0.8"/>
<line x1="56.4" y1="398.5" x2="61" y2="398.5" stroke="#6e1223" stroke-width="0.8"/>
<line x1="58.7" y1="404.8" x2="58.7" y2="411" stroke="#6e1223" stroke-width="0.8"/>
<line x1="56.4" y1="411" x2="61" y2="411" stroke="#6e1223" stroke-width="0.8"/>
<circle cx="61.9" cy="399.7" r="1.25" fill="#4e0c18" stroke="#4e0c18" stroke-width="0.55"/>
<circle cx="59" cy="402" r="1.25" fill="#4e0c18" stroke="#4e0c18" stroke-width="0.55"/>
<circle cx="58.5" cy="408" r="1.25" fill="#4e0c18" stroke="#4e0c18" stroke-width="0.55"/>
<circle cx="58.7" cy="413.5" r="1.25" fill="#4e0c18" stroke="#4e0c18" stroke-width="0.55"/>
<circle cx="69.9" cy="425.8" r="1.25" fill="#16213c" stroke="#16213c" stroke-width="0.55"/>
<circle cx="72.3" cy="425.3" r="1.25" fill="#16213c" stroke="#16213c" stroke-width="0.55"/>
<circle cx="74.7" cy="424.8" r="1.25" fill="#16213c" stroke="#16213c" stroke-width="0.55"/>
<circle cx="77.1" cy="424.5" r="1.25" fill="#16213c" stroke="#16213c" stroke-width="0.55"/>
<circle cx="84.4" cy="427" r="1.25" fill="#2a5a24" stroke="#2a5a24" stroke-width="0.55"/>
<circle cx="86.8" cy="426.3" r="1.25" fill="#2a5a24" stroke="#2a5a24" stroke-width="0.55"/>
<circle cx="89.2" cy="425.6" r="1.25" fill="#2a5a24" stroke="#2a5a24" stroke-width="0.55"/>
<circle cx="91.6" cy="424.2" r="1.25" fill="#2a5a24" stroke="#2a5a24" stroke-width="0.55"/>
<line x1="138.5" y1="374.4" x2="138.5" y2="430.5" stroke="#1e1e1e" stroke-width="1.5"/>
<line x1="135.9" y1="429.8" x2="201.5" y2="429.8" stroke="#1e1e1e" stroke-width="1.5"/>
<line x1="135.9" y1="375" x2="138.5" y2="375" stroke="#1e1e1e" stroke-width="1"/>
<text x="132.3" y="377.45" font-size="6.8" text-anchor="end" textLength="3.45" lengthAdjust="spacingAndGlyphs" stroke="#2b2b2b" stroke-width="0.2">8</text>
<line x1="135.9" y1="388.7" x2="138.5" y2="388.7" stroke="#1e1e1e" stroke-width="1"/>
<text x="132.3" y="391.15" font-size="6.8" text-anchor="end" textLength="3.45" lengthAdjust="spacingAndGlyphs" stroke="#2b2b2b" stroke-width="0.2">6</text>
<line x1="135.9" y1="402.5" x2="138.5" y2="402.5" stroke="#1e1e1e" stroke-width="1"/>
<text x="132.3" y="404.95" font-size="6.8" text-anchor="end" textLength="3.45" lengthAdjust="spacingAndGlyphs" stroke="#2b2b2b" stroke-width="0.2">4</text>
<line x1="135.9" y1="416.2" x2="138.5" y2="416.2" stroke="#1e1e1e" stroke-width="1"/>
<text x="132.3" y="418.65" font-size="6.8" text-anchor="end" textLength="3.45" lengthAdjust="spacingAndGlyphs" stroke="#2b2b2b" stroke-width="0.2">2</text>
<line x1="135.9" y1="429.8" x2="138.5" y2="429.8" stroke="#1e1e1e" stroke-width="1"/>
<text x="132.3" y="432.25" font-size="6.8" text-anchor="end" textLength="3.45" lengthAdjust="spacingAndGlyphs" stroke="#2b2b2b" stroke-width="0.2">0</text>
<line x1="148.5" y1="429.8" x2="148.5" y2="432.6" stroke="#1e1e1e" stroke-width="1"/>
<text x="150.7" y="440.4" font-size="6.9" text-anchor="end" textLength="15.5" lengthAdjust="spacingAndGlyphs" transform="rotate(-45 150.7 440.4)" stroke="#2b2b2b" stroke-width="0.26">Naive</text>
<line x1="163.1" y1="429.8" x2="163.1" y2="432.6" stroke="#1e1e1e" stroke-width="1"/>
<text x="165.3" y="440.4" font-size="6.9" text-anchor="end" textLength="8.7" lengthAdjust="spacingAndGlyphs" transform="rotate(-45 165.3 440.4)" stroke="#2b2b2b" stroke-width="0.26">Veh</text>
<line x1="177.7" y1="429.8" x2="177.7" y2="432.6" stroke="#1e1e1e" stroke-width="1"/>
<text x="179.9" y="440.4" font-size="6.9" text-anchor="end" textLength="17.2" lengthAdjust="spacingAndGlyphs" transform="rotate(-45 179.9 440.4)" stroke="#2b2b2b" stroke-width="0.26">STAT3i</text>
<line x1="192.5" y1="429.8" x2="192.5" y2="432.6" stroke="#1e1e1e" stroke-width="1"/>
<text x="194.7" y="440.4" font-size="6.9" text-anchor="end" textLength="17.2" lengthAdjust="spacingAndGlyphs" transform="rotate(-45 194.7 440.4)" stroke="#2b2b2b" stroke-width="0.26">STAT5i</text>
<text x="170.9" y="367.5" font-size="9.2" text-anchor="middle" fill="#1e1e1e" font-style="italic" textLength="15.6" lengthAdjust="spacingAndGlyphs" stroke="#1e1e1e" stroke-width="0.26">Tnfa</text>
<text x="121.9" y="400.8" font-size="8.8" text-anchor="middle" textLength="60" lengthAdjust="spacingAndGlyphs" transform="rotate(-90 121.9 400.8)" stroke="#2b2b2b" stroke-width="0.26" dominant-baseline="central">Relative expression</text>
<line x1="152.2" y1="382.2" x2="163.5" y2="382.2" stroke="#8a8a8a" stroke-width="1.1"/>
<circle cx="153.5" cy="379" r="0.95" fill="#3a3a3a"/>
<circle cx="156.4" cy="379" r="0.95" fill="#3a3a3a"/>
<circle cx="159.3" cy="379" r="0.95" fill="#3a3a3a"/>
<circle cx="162.2" cy="379" r="0.95" fill="#3a3a3a"/>
<line x1="167.5" y1="382.2" x2="178.1" y2="382.2" stroke="#8a8a8a" stroke-width="1.1"/>
<circle cx="168.45" cy="379" r="0.95" fill="#3a3a3a"/>
<circle cx="171.35" cy="379" r="0.95" fill="#3a3a3a"/>
<circle cx="174.25" cy="379" r="0.95" fill="#3a3a3a"/>
<circle cx="177.15" cy="379" r="0.95" fill="#3a3a3a"/>
<line x1="167.5" y1="390.4" x2="191.2" y2="390.4" stroke="#8a8a8a" stroke-width="1.1"/>
<circle cx="175.15" cy="387" r="0.95" fill="#3a3a3a"/>
<circle cx="178.05" cy="387" r="0.95" fill="#3a3a3a"/>
<circle cx="180.95" cy="387" r="0.95" fill="#3a3a3a"/>
<circle cx="183.85" cy="387" r="0.95" fill="#3a3a3a"/>
<line x1="160.6" y1="457.2" x2="195.5" y2="457.2" stroke="#333" stroke-width="1.3"/>
<text x="178.05" y="467" font-size="8.2" text-anchor="middle" textLength="12.3" lengthAdjust="spacingAndGlyphs" stroke="#2b2b2b" stroke-width="0.26">CpG</text>
<rect x="144.15" y="429" width="8.7" height="0.2" fill="#e2e2e2" stroke="#cfcfcf" stroke-width="0.6"/>
<rect x="158.75" y="408.1" width="8.7" height="21.1" fill="#ea8a80" stroke="#dc6e64" stroke-width="0.6"/>
<rect x="173.35" y="423.2" width="8.7" height="6" fill="#8497c3" stroke="#6f83b2" stroke-width="0.6"/>
<rect x="188.15" y="427.6" width="8.7" height="1.6" fill="#a9d68f" stroke="#93c579" stroke-width="0.6"/>
<circle cx="144.75" cy="429" r="1.3" fill="#ffffff" stroke="#262626" stroke-width="0.9"/>
<circle cx="147.25" cy="429" r="1.3" fill="#ffffff" stroke="#262626" stroke-width="0.9"/>
<circle cx="149.75" cy="429" r="1.3" fill="#ffffff" stroke="#262626" stroke-width="0.9"/>
<circle cx="152.25" cy="429" r="1.3" fill="#ffffff" stroke="#262626" stroke-width="0.9"/>
<line x1="163.1" y1="400.6" x2="163.1" y2="408.1" stroke="#4a0d18" stroke-width="0.8"/>
<line x1="160.8" y1="400.6" x2="165.4" y2="400.6" stroke="#4a0d18" stroke-width="0.8"/>
<line x1="163.1" y1="408.1" x2="163.1" y2="415" stroke="#4a0d18" stroke-width="0.8"/>
<line x1="160.8" y1="415" x2="165.4" y2="415" stroke="#4a0d18" stroke-width="0.8"/>
<circle cx="159.6" cy="403.5" r="1.25" fill="#4e0c18" stroke="#4e0c18" stroke-width="0.55"/>
<circle cx="167" cy="404" r="1.25" fill="#4e0c18" stroke="#4e0c18" stroke-width="0.55"/>
<circle cx="163.5" cy="405.5" r="1.25" fill="#4e0c18" stroke="#4e0c18" stroke-width="0.55"/>
<circle cx="163.1" cy="417.7" r="1.25" fill="#4e0c18" stroke="#4e0c18" stroke-width="0.55"/>
<circle cx="174" cy="427" r="1.25" fill="#16213c" stroke="#16213c" stroke-width="0.55"/>
<rect x="176.25" y="423.75" width="2.5" height="2.5" fill="#16213c" stroke="#16213c" stroke-width="0.5"/>
<rect x="179.75" y="421.75" width="2.5" height="2.5" fill="#16213c" stroke="#16213c" stroke-width="0.5"/>
<circle cx="188.9" cy="428" r="1.25" fill="#2a5a24" stroke="#2a5a24" stroke-width="0.55"/>
<circle cx="191.3" cy="427" r="1.25" fill="#2a5a24" stroke="#2a5a24" stroke-width="0.55"/>
<circle cx="193.7" cy="426.5" r="1.25" fill="#2a5a24" stroke="#2a5a24" stroke-width="0.55"/>
<circle cx="196.1" cy="427.3" r="1.25" fill="#2a5a24" stroke="#2a5a24" stroke-width="0.55"/>
<line x1="33.8" y1="493.1" x2="33.8" y2="549" stroke="#1e1e1e" stroke-width="1.5"/>
<line x1="31.2" y1="548.3" x2="98.1" y2="548.3" stroke="#1e1e1e" stroke-width="1.5"/>
<line x1="31.2" y1="493.7" x2="33.8" y2="493.7" stroke="#1e1e1e" stroke-width="1"/>
<text x="27.8" y="496.15" font-size="6.8" text-anchor="end" textLength="6.9" lengthAdjust="spacingAndGlyphs" stroke="#2b2b2b" stroke-width="0.2">80</text>
<line x1="31.2" y1="507.3" x2="33.8" y2="507.3" stroke="#1e1e1e" stroke-width="1"/>
<text x="27.8" y="509.75" font-size="6.8" text-anchor="end" textLength="6.9" lengthAdjust="spacingAndGlyphs" stroke="#2b2b2b" stroke-width="0.2">60</text>
<line x1="31.2" y1="521" x2="33.8" y2="521" stroke="#1e1e1e" stroke-width="1"/>
<text x="27.8" y="523.45" font-size="6.8" text-anchor="end" textLength="6.9" lengthAdjust="spacingAndGlyphs" stroke="#2b2b2b" stroke-width="0.2">40</text>
<line x1="31.2" y1="534.5" x2="33.8" y2="534.5" stroke="#1e1e1e" stroke-width="1"/>
<text x="27.8" y="536.95" font-size="6.8" text-anchor="end" textLength="6.9" lengthAdjust="spacingAndGlyphs" stroke="#2b2b2b" stroke-width="0.2">20</text>
<line x1="31.2" y1="548.3" x2="33.8" y2="548.3" stroke="#1e1e1e" stroke-width="1"/>
<text x="27.8" y="550.75" font-size="6.8" text-anchor="end" textLength="3.45" lengthAdjust="spacingAndGlyphs" stroke="#2b2b2b" stroke-width="0.2">0</text>
<line x1="43.7" y1="548.3" x2="43.7" y2="551.1" stroke="#1e1e1e" stroke-width="1"/>
<text x="45.9" y="558.9" font-size="6.9" text-anchor="end" textLength="15.5" lengthAdjust="spacingAndGlyphs" transform="rotate(-45 45.9 558.9)" stroke="#2b2b2b" stroke-width="0.26">Naive</text>
<line x1="58.7" y1="548.3" x2="58.7" y2="551.1" stroke="#1e1e1e" stroke-width="1"/>
<text x="60.9" y="558.9" font-size="6.9" text-anchor="end" textLength="8.7" lengthAdjust="spacingAndGlyphs" transform="rotate(-45 60.9 558.9)" stroke="#2b2b2b" stroke-width="0.26">Veh</text>
<line x1="73.5" y1="548.3" x2="73.5" y2="551.1" stroke="#1e1e1e" stroke-width="1"/>
<text x="75.7" y="558.9" font-size="6.9" text-anchor="end" textLength="17.2" lengthAdjust="spacingAndGlyphs" transform="rotate(-45 75.7 558.9)" stroke="#2b2b2b" stroke-width="0.26">STAT3i</text>
<line x1="88" y1="548.3" x2="88" y2="551.1" stroke="#1e1e1e" stroke-width="1"/>
<text x="90.2" y="558.9" font-size="6.9" text-anchor="end" textLength="17.2" lengthAdjust="spacingAndGlyphs" transform="rotate(-45 90.2 558.9)" stroke="#2b2b2b" stroke-width="0.26">STAT5i</text>
<text x="66.6" y="486" font-size="9.2" text-anchor="middle" fill="#1e1e1e" font-style="italic" textLength="13.1" lengthAdjust="spacingAndGlyphs" stroke="#1e1e1e" stroke-width="0.26">Il18</text>
<text x="12" y="519" font-size="8.8" text-anchor="middle" textLength="60" lengthAdjust="spacingAndGlyphs" transform="rotate(-90 12 519)" stroke="#2b2b2b" stroke-width="0.26" dominant-baseline="central">Relative expression</text>
<line x1="48.1" y1="496.9" x2="58.7" y2="496.9" stroke="#8a8a8a" stroke-width="1.1"/>
<circle cx="49.05" cy="493.6" r="0.95" fill="#3a3a3a"/>
<circle cx="51.95" cy="493.6" r="0.95" fill="#3a3a3a"/>
<circle cx="54.85" cy="493.6" r="0.95" fill="#3a3a3a"/>
<circle cx="57.75" cy="493.6" r="0.95" fill="#3a3a3a"/>
<line x1="63.1" y1="496.9" x2="73.7" y2="496.9" stroke="#8a8a8a" stroke-width="1.1"/>
<circle cx="66.95" cy="493.6" r="0.95" fill="#3a3a3a"/>
<circle cx="69.85" cy="493.6" r="0.95" fill="#3a3a3a"/>
<line x1="63.1" y1="505" x2="86.9" y2="505" stroke="#8a8a8a" stroke-width="1.1"/>
<circle cx="72.25" cy="501.9" r="0.95" fill="#3a3a3a"/>
<circle cx="75.15" cy="501.9" r="0.95" fill="#3a3a3a"/>
<line x1="55.6" y1="576" x2="90.6" y2="576" stroke="#333" stroke-width="1.3"/>
<text x="73.1" y="585.6" font-size="8.2" text-anchor="middle" textLength="12.3" lengthAdjust="spacingAndGlyphs" stroke="#2b2b2b" stroke-width="0.26">CpG</text>
<rect x="39.35" y="541.3" width="8.7" height="6.4" fill="#e2e2e2" stroke="#cfcfcf" stroke-width="0.6"/>
<rect x="54.35" y="516" width="8.7" height="31.7" fill="#ea8a80" stroke="#dc6e64" stroke-width="0.6"/>
<rect x="69.15" y="529.4" width="8.7" height="18.3" fill="#8497c3" stroke="#6f83b2" stroke-width="0.6"/>
<rect x="83.65" y="532.5" width="8.7" height="15.2" fill="#a9d68f" stroke="#93c579" stroke-width="0.6"/>
<circle cx="40.2" cy="539.3" r="1.3" fill="#ffffff" stroke="#262626" stroke-width="0.9"/>
<circle cx="42.7" cy="538.5" r="1.3" fill="#ffffff" stroke="#262626" stroke-width="0.9"/>
<circle cx="45.2" cy="538.8" r="1.3" fill="#ffffff" stroke="#262626" stroke-width="0.9"/>
<circle cx="47.7" cy="538.8" r="1.3" fill="#ffffff" stroke="#262626" stroke-width="0.9"/>
<line x1="58.7" y1="506.3" x2="58.7" y2="516" stroke="#6e1223" stroke-width="0.8"/>
<line x1="56.4" y1="506.3" x2="61" y2="506.3" stroke="#6e1223" stroke-width="0.8"/>
<line x1="58.7" y1="516" x2="58.7" y2="525" stroke="#6e1223" stroke-width="0.8"/>
<line x1="56.4" y1="525" x2="61" y2="525" stroke="#6e1223" stroke-width="0.8"/>
<polygon points="58.7,505.88 57.2,508.62 60.2,508.62" fill="#4e0c18" stroke="#4e0c18" stroke-width="0.5"/>
<circle cx="58.7" cy="512.5" r="1.25" fill="#4e0c18" stroke="#4e0c18" stroke-width="0.55"/>
<circle cx="58.7" cy="520.5" r="1.25" fill="#4e0c18" stroke="#4e0c18" stroke-width="0.55"/>
<circle cx="58.7" cy="524.2" r="1.25" fill="#4e0c18" stroke="#4e0c18" stroke-width="0.55"/>
<line x1="73.5" y1="525.5" x2="73.5" y2="529.4" stroke="#16213c" stroke-width="0.8"/>
<line x1="71.2" y1="525.5" x2="75.8" y2="525.5" stroke="#16213c" stroke-width="0.8"/>
<line x1="73.5" y1="529.4" x2="73.5" y2="533" stroke="#16213c" stroke-width="0.8"/>
<line x1="71.2" y1="533" x2="75.8" y2="533" stroke="#16213c" stroke-width="0.8"/>
<circle cx="73.5" cy="524.4" r="1.25" fill="#16213c" stroke="#16213c" stroke-width="0.55"/>
<circle cx="70" cy="530.5" r="1.25" fill="#16213c" stroke="#16213c" stroke-width="0.55"/>
<rect x="72.25" y="529.25" width="2.5" height="2.5" fill="#16213c" stroke="#16213c" stroke-width="0.5"/>
<circle cx="77" cy="530.5" r="1.25" fill="#16213c" stroke="#16213c" stroke-width="0.55"/>
<circle cx="84.5" cy="533" r="1.25" fill="#2a5a24" stroke="#2a5a24" stroke-width="0.55"/>
<circle cx="87" cy="531" r="1.25" fill="#2a5a24" stroke="#2a5a24" stroke-width="0.55"/>
<circle cx="89.5" cy="529.5" r="1.25" fill="#2a5a24" stroke="#2a5a24" stroke-width="0.55"/>
<circle cx="92" cy="528" r="1.25" fill="#2a5a24" stroke="#2a5a24" stroke-width="0.55"/>
<line x1="138.5" y1="492.9" x2="138.5" y2="549" stroke="#1e1e1e" stroke-width="1.5"/>
<line x1="135.9" y1="548.3" x2="201.5" y2="548.3" stroke="#1e1e1e" stroke-width="1.5"/>
<line x1="135.9" y1="493.5" x2="138.5" y2="493.5" stroke="#1e1e1e" stroke-width="1"/>
<text x="131.9" y="495.95" font-size="6.8" text-anchor="end" textLength="13.8" lengthAdjust="spacingAndGlyphs" stroke="#2b2b2b" stroke-width="0.2">2000</text>
<line x1="135.9" y1="507.2" x2="138.5" y2="507.2" stroke="#1e1e1e" stroke-width="1"/>
<text x="131.9" y="509.65" font-size="6.8" text-anchor="end" textLength="13.8" lengthAdjust="spacingAndGlyphs" stroke="#2b2b2b" stroke-width="0.2">1500</text>
<line x1="135.9" y1="521" x2="138.5" y2="521" stroke="#1e1e1e" stroke-width="1"/>
<text x="131.9" y="523.45" font-size="6.8" text-anchor="end" textLength="13.8" lengthAdjust="spacingAndGlyphs" stroke="#2b2b2b" stroke-width="0.2">1000</text>
<line x1="135.9" y1="534.6" x2="138.5" y2="534.6" stroke="#1e1e1e" stroke-width="1"/>
<text x="131.9" y="537.05" font-size="6.8" text-anchor="end" textLength="10.35" lengthAdjust="spacingAndGlyphs" stroke="#2b2b2b" stroke-width="0.2">500</text>
<line x1="135.9" y1="548.3" x2="138.5" y2="548.3" stroke="#1e1e1e" stroke-width="1"/>
<text x="131.9" y="550.75" font-size="6.8" text-anchor="end" textLength="3.45" lengthAdjust="spacingAndGlyphs" stroke="#2b2b2b" stroke-width="0.2">0</text>
<line x1="148.5" y1="548.3" x2="148.5" y2="551.1" stroke="#1e1e1e" stroke-width="1"/>
<text x="150.7" y="558.9" font-size="6.9" text-anchor="end" textLength="15.5" lengthAdjust="spacingAndGlyphs" transform="rotate(-45 150.7 558.9)" stroke="#2b2b2b" stroke-width="0.26">Naive</text>
<line x1="163.1" y1="548.3" x2="163.1" y2="551.1" stroke="#1e1e1e" stroke-width="1"/>
<text x="165.3" y="558.9" font-size="6.9" text-anchor="end" textLength="8.7" lengthAdjust="spacingAndGlyphs" transform="rotate(-45 165.3 558.9)" stroke="#2b2b2b" stroke-width="0.26">Veh</text>
<line x1="177.7" y1="548.3" x2="177.7" y2="551.1" stroke="#1e1e1e" stroke-width="1"/>
<text x="179.9" y="558.9" font-size="6.9" text-anchor="end" textLength="17.2" lengthAdjust="spacingAndGlyphs" transform="rotate(-45 179.9 558.9)" stroke="#2b2b2b" stroke-width="0.26">STAT3i</text>
<line x1="192.5" y1="548.3" x2="192.5" y2="551.1" stroke="#1e1e1e" stroke-width="1"/>
<text x="194.7" y="558.9" font-size="6.9" text-anchor="end" textLength="17.2" lengthAdjust="spacingAndGlyphs" transform="rotate(-45 194.7 558.9)" stroke="#2b2b2b" stroke-width="0.26">STAT5i</text>
<text x="170.9" y="486" font-size="9.2" text-anchor="middle" fill="#1e1e1e" font-style="italic" textLength="20.6" lengthAdjust="spacingAndGlyphs" stroke="#1e1e1e" stroke-width="0.26">Cxcl9</text>
<text x="111" y="519" font-size="8.8" text-anchor="middle" textLength="60" lengthAdjust="spacingAndGlyphs" transform="rotate(-90 111 519)" stroke="#2b2b2b" stroke-width="0.26" dominant-baseline="central">Relative expression</text>
<line x1="152.2" y1="500.6" x2="163.5" y2="500.6" stroke="#8a8a8a" stroke-width="1.1"/>
<circle cx="154.95" cy="497.5" r="0.95" fill="#3a3a3a"/>
<circle cx="157.85" cy="497.5" r="0.95" fill="#3a3a3a"/>
<circle cx="160.75" cy="497.5" r="0.95" fill="#3a3a3a"/>
<line x1="167.2" y1="500.6" x2="178.5" y2="500.6" stroke="#8a8a8a" stroke-width="1.1"/>
<circle cx="171.4" cy="497.5" r="0.95" fill="#3a3a3a"/>
<circle cx="174.3" cy="497.5" r="0.95" fill="#3a3a3a"/>
<line x1="167.2" y1="508.5" x2="191.2" y2="508.5" stroke="#8a8a8a" stroke-width="1.1"/>
<circle cx="175.8" cy="505.4" r="0.95" fill="#3a3a3a"/>
<circle cx="178.7" cy="505.4" r="0.95" fill="#3a3a3a"/>
<circle cx="181.6" cy="505.4" r="0.95" fill="#3a3a3a"/>
<line x1="160.6" y1="576" x2="195.5" y2="576" stroke="#333" stroke-width="1.3"/>
<text x="178.05" y="585.6" font-size="8.2" text-anchor="middle" textLength="12.3" lengthAdjust="spacingAndGlyphs" stroke="#2b2b2b" stroke-width="0.26">CpG</text>
<rect x="144.15" y="548" width="8.7" height="-0.3" fill="#e2e2e2" stroke="#cfcfcf" stroke-width="0.6"/>
<rect x="158.75" y="527.5" width="8.7" height="20.2" fill="#ea8a80" stroke="#dc6e64" stroke-width="0.6"/>
<rect x="173.35" y="544.4" width="8.7" height="3.3" fill="#8497c3" stroke="#6f83b2" stroke-width="0.6"/>
<rect x="188.15" y="547" width="8.7" height="0.7" fill="#a9d68f" stroke="#93c579" stroke-width="0.6"/>
<circle cx="144.75" cy="547.5" r="1.3" fill="#ffffff" stroke="#262626" stroke-width="0.9"/>
<circle cx="147.25" cy="547.5" r="1.3" fill="#ffffff" stroke="#262626" stroke-width="0.9"/>
<circle cx="149.75" cy="547.5" r="1.3" fill="#ffffff" stroke="#262626" stroke-width="0.9"/>
<circle cx="152.25" cy="547.5" r="1.3" fill="#ffffff" stroke="#262626" stroke-width="0.9"/>
<line x1="163.1" y1="518.1" x2="163.1" y2="527.5" stroke="#4a0d18" stroke-width="0.8"/>
<line x1="160.8" y1="518.1" x2="165.4" y2="518.1" stroke="#4a0d18" stroke-width="0.8"/>
<line x1="163.1" y1="527.5" x2="163.1" y2="537.2" stroke="#4a0d18" stroke-width="0.8"/>
<line x1="160.8" y1="537.2" x2="165.4" y2="537.2" stroke="#4a0d18" stroke-width="0.8"/>
<circle cx="163.1" cy="515.5" r="1.25" fill="#4e0c18" stroke="#4e0c18" stroke-width="0.55"/>
<circle cx="163.1" cy="526.5" r="1.25" fill="#4e0c18" stroke="#4e0c18" stroke-width="0.55"/>
<circle cx="159.7" cy="534.7" r="1.25" fill="#4e0c18" stroke="#4e0c18" stroke-width="0.55"/>
<circle cx="166.4" cy="534.7" r="1.25" fill="#4e0c18" stroke="#4e0c18" stroke-width="0.55"/>
<circle cx="174.7" cy="546" r="1.25" fill="#16213c" stroke="#16213c" stroke-width="0.55"/>
<rect x="176.45" y="544.25" width="2.5" height="2.5" fill="#16213c" stroke="#16213c" stroke-width="0.5"/>
<circle cx="180.7" cy="546" r="1.25" fill="#16213c" stroke="#16213c" stroke-width="0.55"/>
<circle cx="188.9" cy="547" r="1.25" fill="#2a5a24" stroke="#2a5a24" stroke-width="0.55"/>
<circle cx="191.3" cy="546.6" r="1.25" fill="#2a5a24" stroke="#2a5a24" stroke-width="0.55"/>
<polygon points="193.7,544.58 192.2,547.33 195.2,547.33" fill="#2a5a24" stroke="#2a5a24" stroke-width="0.5"/>
<circle cx="196.1" cy="547.2" r="1.25" fill="#2a5a24" stroke="#2a5a24" stroke-width="0.55"/>
</g>
<rect x="1.5" y="1.5" width="517" height="592" fill="none" stroke="#e4e4e4" stroke-width="1"/>
<rect x="0.5" y="0.5" width="519" height="594" fill="none" stroke="#585858" stroke-width="1"/>
</svg>
</body></html>
